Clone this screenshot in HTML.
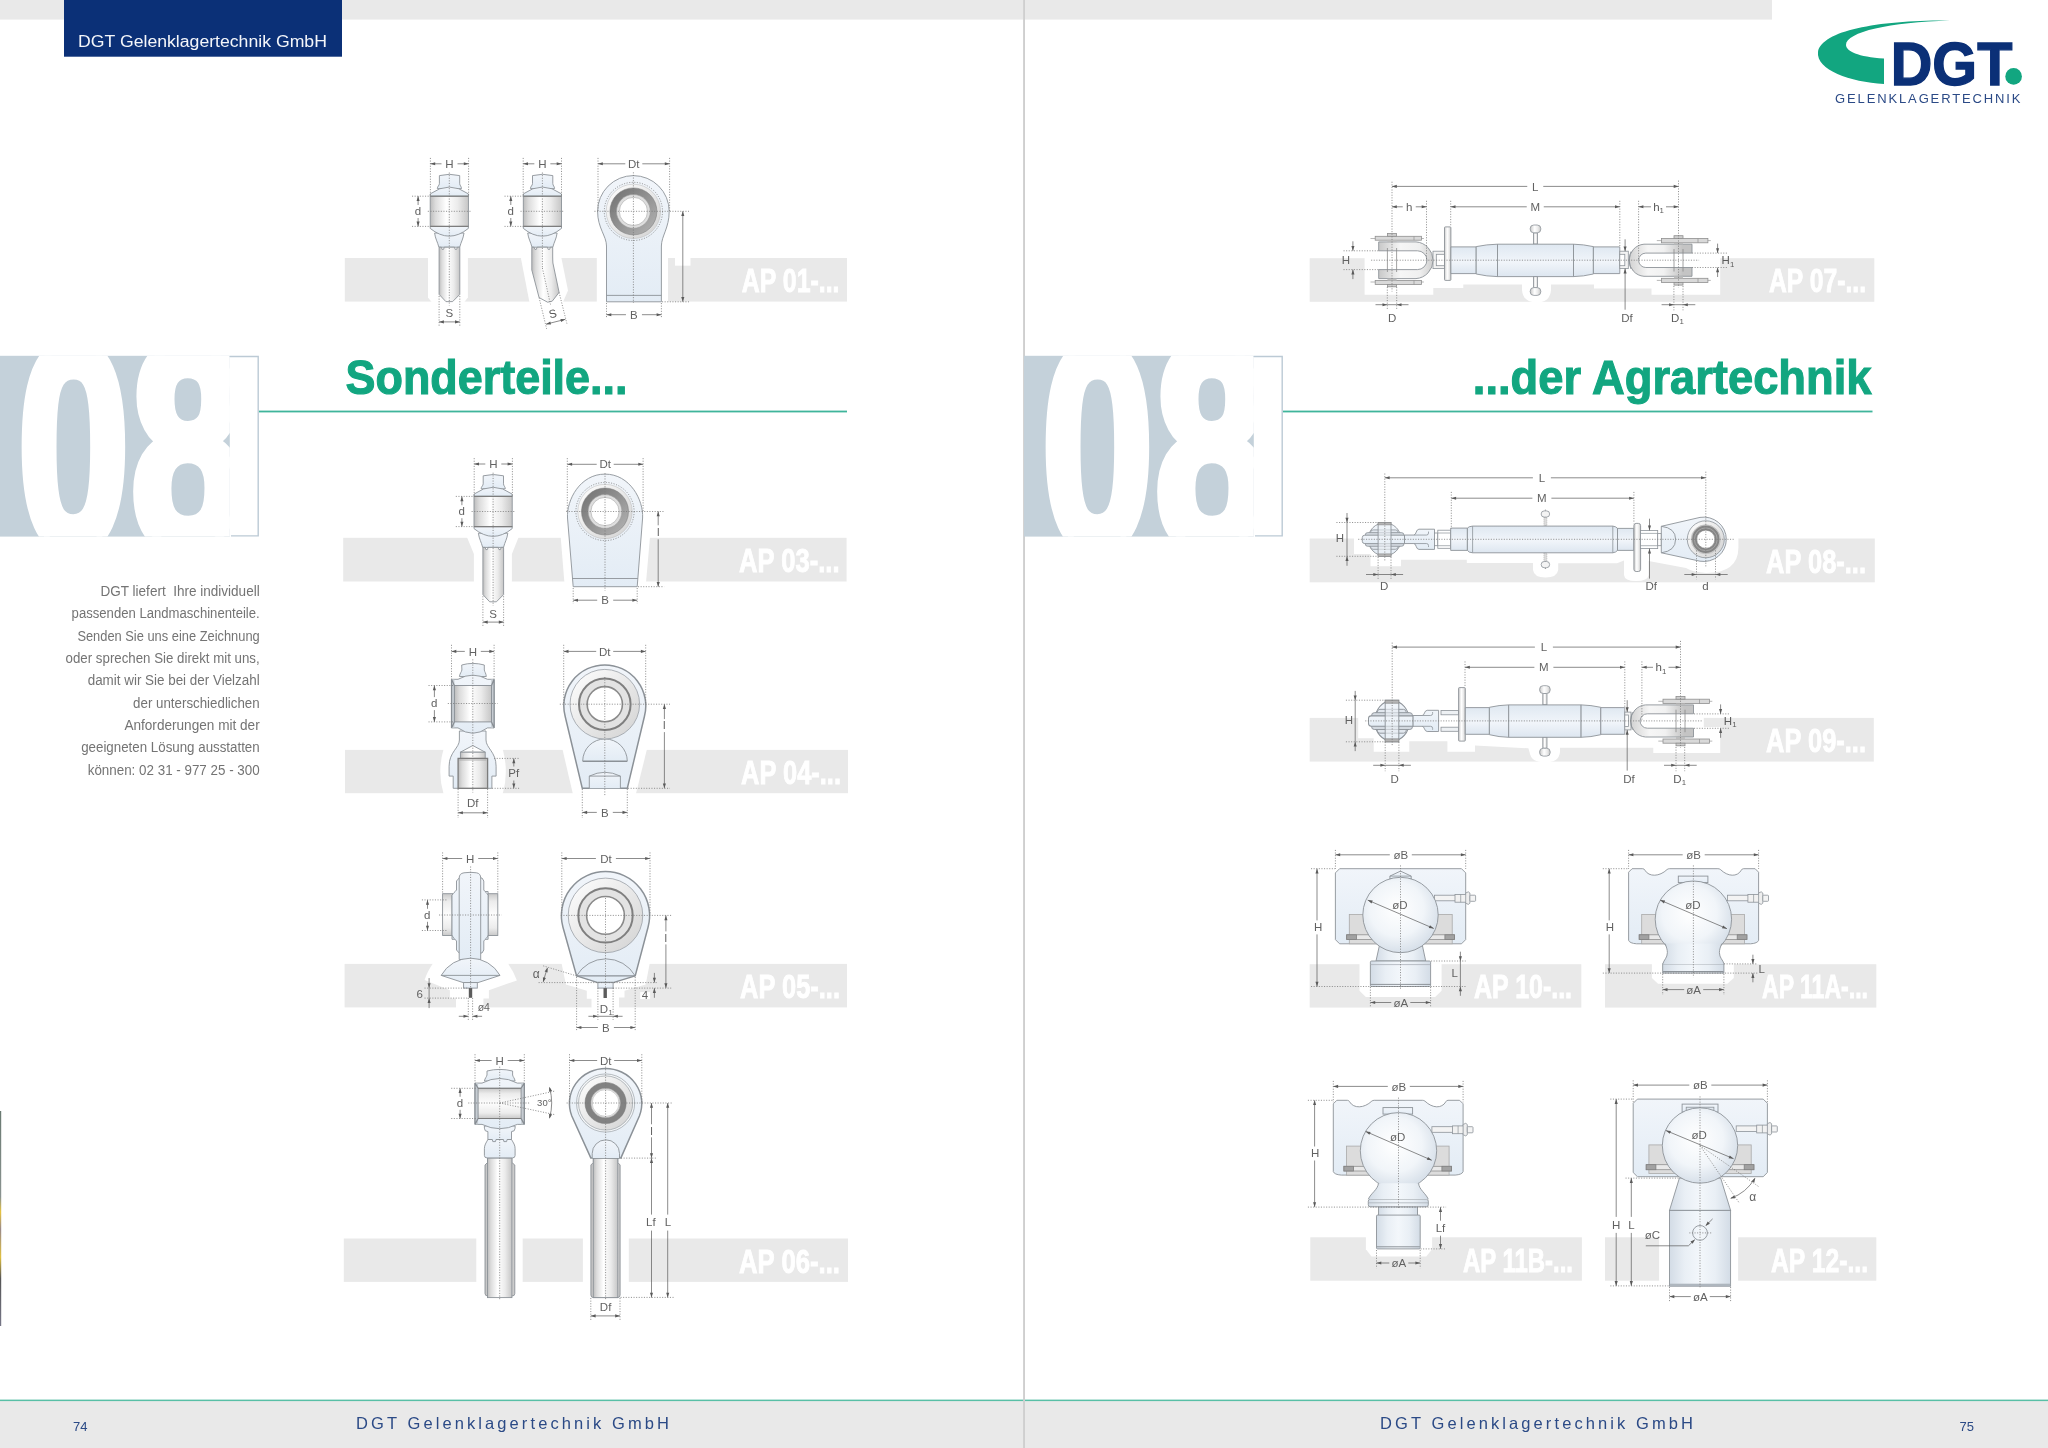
<!DOCTYPE html>
<html lang="de"><head><meta charset="utf-8"><title>DGT Gelenklagertechnik GmbH – Sonderteile der Agrartechnik</title>
<style>
html,body{margin:0;padding:0;background:#fff;}
body{width:2048px;height:1448px;overflow:hidden;font-family:"Liberation Sans",sans-serif;}
svg{display:block;font-family:"Liberation Sans",sans-serif;will-change:transform;}
</style></head><body>
<svg width="2048" height="1448" viewBox="0 0 2048 1448">
<rect x="0" y="0" width="1023" height="19.6" fill="#e9e9e9"/><rect x="1025" y="0" width="747" height="19.6" fill="#e9e9e9"/><rect x="0" y="1400.5" width="2048" height="48" fill="#e9e9e9"/><rect x="0" y="1399.6" width="2048" height="1.5" fill="#58bfa6"/><rect x="1023.1" y="0" width="1.9" height="1448" fill="#cfcfcf"/><rect x="64" y="0" width="278" height="56.7" fill="#0b3077"/><text x="78.1" y="46.6" font-size="17.3" fill="#f4f6fa" textLength="248.8" lengthAdjust="spacingAndGlyphs">DGT Gelenklagertechnik GmbH</text><rect x="344.8" y="258" width="502.2" height="43.6" fill="#e9e9e9"/><rect x="343.2" y="537.8" width="503.4" height="43.7" fill="#e9e9e9"/><rect x="345" y="749.9" width="503" height="43.3" fill="#e9e9e9"/><rect x="344.6" y="963.9" width="502.4" height="43.5" fill="#e9e9e9"/><rect x="343.8" y="1238.5" width="504.2" height="43.4" fill="#e9e9e9"/><rect x="1309.7" y="258.2" width="564.6" height="43.6" fill="#e9e9e9"/><rect x="1309.7" y="538.5" width="565.1" height="43.8" fill="#e9e9e9"/><rect x="1309.7" y="717.9" width="564.1" height="43.7" fill="#e9e9e9"/><rect x="1309.7" y="964.2" width="271.6" height="43.4" fill="#e9e9e9"/><rect x="1605" y="964.2" width="271.3" height="43.4" fill="#e9e9e9"/><rect x="1310.3" y="1237.3" width="271.6" height="43.4" fill="#e9e9e9"/><rect x="1605" y="1237.3" width="271.3" height="43.4" fill="#e9e9e9"/><g transform="translate(0 0)"><rect x="0" y="355.8" width="229.8" height="180.8" fill="#c4d1da"/><path d="M229.8 356.5H258.2V535.9H231" fill="none" stroke="#bccad5" stroke-width="1.4"/><clipPath id="c08_0"><rect x="0" y="355.8" width="229.8" height="180.8"/></clipPath><g clip-path="url(#c08_0)" font-weight="bold" fill="#fff" stroke="#fff" stroke-width="8.8" stroke-linejoin="round"><g transform="translate(0 548.2) scale(0.69 1)"><text y="0" font-size="294" text-anchor="middle" vector-effect="non-scaling-stroke"><tspan x="106.6" vector-effect="non-scaling-stroke">0</tspan><tspan x="272.4" stroke-width="12" vector-effect="non-scaling-stroke">8</tspan></text></g></g></g><g transform="translate(1024 0)"><rect x="0" y="355.8" width="229.8" height="180.8" fill="#c4d1da"/><path d="M229.8 356.5H258.2V535.9H231" fill="none" stroke="#bccad5" stroke-width="1.4"/><clipPath id="c08_1024"><rect x="0" y="355.8" width="229.8" height="180.8"/></clipPath><g clip-path="url(#c08_1024)" font-weight="bold" fill="#fff" stroke="#fff" stroke-width="8.8" stroke-linejoin="round"><g transform="translate(0 548.2) scale(0.69 1)"><text y="0" font-size="294" text-anchor="middle" vector-effect="non-scaling-stroke"><tspan x="106.6" vector-effect="non-scaling-stroke">0</tspan><tspan x="272.4" stroke-width="12" vector-effect="non-scaling-stroke">8</tspan></text></g></g></g><text x="345.5" y="394" font-size="48.5" font-weight="bold" fill="#12a680" stroke="#12a680" stroke-width="1.1" textLength="282" lengthAdjust="spacingAndGlyphs">Sonderteile...</text><text x="1472.8" y="394" font-size="48.5" font-weight="bold" fill="#12a680" stroke="#12a680" stroke-width="1.1" textLength="398.7" lengthAdjust="spacingAndGlyphs">...der Agrartechnik</text><rect x="259" y="410.6" width="588" height="1.8" fill="#3fb59b"/><rect x="1283" y="410.6" width="589.5" height="1.8" fill="#3fb59b"/><text x="741.8" y="292.3" font-size="33.5" font-weight="bold" fill="#fff" stroke="#fff" stroke-width="0.9" textLength="97.7" lengthAdjust="spacingAndGlyphs">AP 01-...</text><text x="739" y="572.2" font-size="33.5" font-weight="bold" fill="#fff" stroke="#fff" stroke-width="0.9" textLength="100.5" lengthAdjust="spacingAndGlyphs">AP 03-...</text><text x="741" y="784" font-size="33.5" font-weight="bold" fill="#fff" stroke="#fff" stroke-width="0.9" textLength="100" lengthAdjust="spacingAndGlyphs">AP 04-...</text><text x="740" y="998" font-size="33.5" font-weight="bold" fill="#fff" stroke="#fff" stroke-width="0.9" textLength="100" lengthAdjust="spacingAndGlyphs">AP 05-...</text><text x="739" y="1272.5" font-size="33.5" font-weight="bold" fill="#fff" stroke="#fff" stroke-width="0.9" textLength="101" lengthAdjust="spacingAndGlyphs">AP 06-...</text><text x="1769" y="292.3" font-size="33.5" font-weight="bold" fill="#fff" stroke="#fff" stroke-width="0.9" textLength="97" lengthAdjust="spacingAndGlyphs">AP 07-...</text><text x="1766" y="572.8" font-size="33.5" font-weight="bold" fill="#fff" stroke="#fff" stroke-width="0.9" textLength="100" lengthAdjust="spacingAndGlyphs">AP 08-...</text><text x="1766" y="752" font-size="33.5" font-weight="bold" fill="#fff" stroke="#fff" stroke-width="0.9" textLength="100" lengthAdjust="spacingAndGlyphs">AP 09-...</text><text x="1474" y="998" font-size="33.5" font-weight="bold" fill="#fff" stroke="#fff" stroke-width="0.9" textLength="98" lengthAdjust="spacingAndGlyphs">AP 10-...</text><text x="1762" y="998" font-size="33.5" font-weight="bold" fill="#fff" stroke="#fff" stroke-width="0.9" textLength="106" lengthAdjust="spacingAndGlyphs">AP 11A-...</text><text x="1463" y="1271.5" font-size="33.5" font-weight="bold" fill="#fff" stroke="#fff" stroke-width="0.9" textLength="110" lengthAdjust="spacingAndGlyphs">AP 11B-...</text><text x="1771" y="1271.5" font-size="33.5" font-weight="bold" fill="#fff" stroke="#fff" stroke-width="0.9" textLength="97" lengthAdjust="spacingAndGlyphs">AP 12-...</text><defs>
<linearGradient id="gBody" x1="0" y1="0" x2="0" y2="1"><stop offset="0" stop-color="#f1f5fa"/><stop offset="1" stop-color="#e3ecf5"/></linearGradient>
<linearGradient id="gBodyH" x1="0" y1="0" x2="1" y2="0"><stop offset="0" stop-color="#dfe8f1"/><stop offset="0.5" stop-color="#f3f7fb"/><stop offset="1" stop-color="#dfe8f1"/></linearGradient>
<linearGradient id="gCyl" x1="0" y1="0" x2="1" y2="0"><stop offset="0" stop-color="#bdbdbd"/><stop offset="0.14" stop-color="#dcdcdc"/><stop offset="0.42" stop-color="#ffffff"/><stop offset="0.72" stop-color="#ebebeb"/><stop offset="1" stop-color="#c6c6c6"/></linearGradient>
<linearGradient id="gCylV" x1="0" y1="0" x2="0" y2="1"><stop offset="0" stop-color="#c9c9c9"/><stop offset="0.18" stop-color="#ececec"/><stop offset="0.5" stop-color="#fdfdfd"/><stop offset="0.82" stop-color="#ececec"/><stop offset="1" stop-color="#c9c9c9"/></linearGradient>
<linearGradient id="gBlueV" x1="0" y1="0" x2="0" y2="1"><stop offset="0" stop-color="#d9e4ef"/><stop offset="0.5" stop-color="#eef3f9"/><stop offset="1" stop-color="#d9e4ef"/></linearGradient>
<linearGradient id="gRing" x1="0" y1="0" x2="1" y2="1"><stop offset="0" stop-color="#6f6f6f"/><stop offset="1" stop-color="#b5b5b5"/></linearGradient>
<linearGradient id="gRingL" x1="0" y1="0" x2="1" y2="1"><stop offset="0" stop-color="#ffffff"/><stop offset="1" stop-color="#d2d2d2"/></linearGradient>
<radialGradient id="gBall" cx="0.45" cy="0.42" r="0.6"><stop offset="0" stop-color="#ffffff"/><stop offset="0.6" stop-color="#f1f5f9"/><stop offset="1" stop-color="#d5dee8"/></radialGradient>
</defs><path d="M428 257H467.9V297.5L464 302.5H432L428 297.5Z" fill="#fff"/><path d="M520.7 257H561.2L568 290.4L562.8 302.5H529.5Z" fill="#fff"/><path d="M596.8 257H668V302.5H596.8Z" fill="#fff"/><path d="M675 257H690.5V265.7H675Z" fill="#fff"/><path d="M434.6 233C435.4 239,437.3 241.2,438.9 247.2L459.7 247.2C461.3 241.2,463.2 239,464 233Z" fill="url(#gBody)" stroke="#8d9399" stroke-width="0.9" stroke-linejoin="round" /><path d="M439.1 247.2L439.1 294.4L445.9 301.6L452.6 301.6L459.8 294.4L459.8 247.2L457.4 247.2L456.6 249.4L455.2 249.4L454.4 247.2L444.3 247.2L443.5 249.4L442.1 249.4L441.3 247.2Z" fill="url(#gCyl)" stroke="#8d9399" stroke-width="0.9" stroke-linejoin="round" /><path d="M437.3 188.6C437.4 186.2,439.3 185.8,439.4 183.6L439.4 175.6Q449.3 173,459.7 175.6L459.7 183.6C459.8 185.8,461.4 186.2,461.5 188.6Z" fill="url(#gBody)" stroke="#8d9399" stroke-width="0.9" stroke-linejoin="round" /><path d="M430.2 196.2L430.2 193.9Q449.3 180.2,468.4 193.9L468.4 196.2Z" fill="url(#gBody)" stroke="#8d9399" stroke-width="0.9" stroke-linejoin="round" /><path d="M430.2 226.4L430.2 228.4Q449.3 243.9,468.4 228.4L468.4 226.4Z" fill="url(#gBody)" stroke="#8d9399" stroke-width="0.9" stroke-linejoin="round" /><rect x="430.2" y="196.2" width="38.2" height="30.2" fill="url(#gCyl)" stroke="#8d9399" stroke-width="0.9"/><line x1="430.2" y1="196.2" x2="468.4" y2="196.2" stroke="#7d7d7d" stroke-width="1.1" /><line x1="430.2" y1="226.4" x2="468.4" y2="226.4" stroke="#7d7d7d" stroke-width="1.1" /><line x1="449.3" y1="172.5" x2="449.3" y2="305.5" stroke="#7a7a7a" stroke-width="0.8" stroke-dasharray="1.1 1.5"/><line x1="427.8" y1="211.3" x2="470.9" y2="211.3" stroke="#7a7a7a" stroke-width="0.8" stroke-dasharray="1.1 1.5"/><line x1="430.4" y1="157.9" x2="430.4" y2="196" stroke="#7a7a7a" stroke-width="0.8" stroke-dasharray="1.1 1.5"/><line x1="468.6" y1="157.9" x2="468.6" y2="196" stroke="#7a7a7a" stroke-width="0.8" stroke-dasharray="1.1 1.5"/><line x1="430.4" y1="163.8" x2="441.5" y2="163.8" stroke="#5a5a5a" stroke-width="0.7" /><line x1="457.5" y1="163.8" x2="468.6" y2="163.8" stroke="#5a5a5a" stroke-width="0.7" /><text x="449.5" y="167.9" font-size="11.5" text-anchor="middle" fill="#626262" font-weight="normal" >H</text><path d="M430.4 163.8L435.2 162.25L435.2 165.35Z" fill="#5a5a5a"/><path d="M468.6 163.8L463.8 165.35L463.8 162.25Z" fill="#5a5a5a"/><line x1="412" y1="196.2" x2="430" y2="196.2" stroke="#7a7a7a" stroke-width="0.8" stroke-dasharray="1.1 1.5"/><line x1="412" y1="226.4" x2="430" y2="226.4" stroke="#7a7a7a" stroke-width="0.8" stroke-dasharray="1.1 1.5"/><line x1="418.1" y1="196.2" x2="418.1" y2="205" stroke="#5a5a5a" stroke-width="0.7" /><line x1="418.1" y1="218" x2="418.1" y2="226.4" stroke="#5a5a5a" stroke-width="0.7" /><text x="417.9" y="215.2" font-size="11.5" text-anchor="middle" fill="#626262" font-weight="normal" >d</text><path d="M418.1 196.2L419.65 201L416.55 201Z" fill="#5a5a5a"/><path d="M418.1 226.4L416.55 221.6L419.65 221.6Z" fill="#5a5a5a"/><line x1="439.1" y1="296" x2="439.1" y2="326.5" stroke="#7a7a7a" stroke-width="0.8" stroke-dasharray="1.1 1.5"/><line x1="459.8" y1="296" x2="459.8" y2="326.5" stroke="#7a7a7a" stroke-width="0.8" stroke-dasharray="1.1 1.5"/><line x1="439.1" y1="321.9" x2="459.8" y2="321.9" stroke="#5a5a5a" stroke-width="0.7" /><path d="M439.1 321.9L443.9 320.35L443.9 323.45Z" fill="#5a5a5a"/><path d="M459.8 321.9L455 323.45L455 320.35Z" fill="#5a5a5a"/><text x="449.3" y="317.4" font-size="11.5" text-anchor="middle" fill="#626262" font-weight="normal" >S</text><path d="M527.7 233C528.5 239,530.4 241.2,532 247.2L552.8 247.2C554.4 241.2,556.3 239,557.1 233Z" fill="url(#gBody)" stroke="#8d9399" stroke-width="0.9" stroke-linejoin="round" /><path d="M531.8 247.2L531.8 270L539.1 297.6L547.6 302.2L552.2 301.2L559.1 292.4L552.9 263Q552.7 260,552.7 257L552.7 247.2L550.4 247.2L549.6 249.4L548.2 249.4L547.4 247.2L537.1 247.2L536.3 249.4L534.9 249.4L534.1 247.2Z" fill="url(#gCyl)" stroke="#8d9399" stroke-width="0.9" stroke-linejoin="round" /><path d="M530.4 188.6C530.5 186.2,532.4 185.8,532.5 183.6L532.5 175.6Q542.4 173,552.8 175.6L552.8 183.6C552.9 185.8,554.5 186.2,554.6 188.6Z" fill="url(#gBody)" stroke="#8d9399" stroke-width="0.9" stroke-linejoin="round" /><path d="M523.3 196.2L523.3 193.9Q542.4 180.2,561.5 193.9L561.5 196.2Z" fill="url(#gBody)" stroke="#8d9399" stroke-width="0.9" stroke-linejoin="round" /><path d="M523.3 226.4L523.3 228.4Q542.4 243.9,561.5 228.4L561.5 226.4Z" fill="url(#gBody)" stroke="#8d9399" stroke-width="0.9" stroke-linejoin="round" /><rect x="523.3" y="196.2" width="38.2" height="30.2" fill="url(#gCyl)" stroke="#8d9399" stroke-width="0.9"/><line x1="523.3" y1="196.2" x2="561.5" y2="196.2" stroke="#7d7d7d" stroke-width="1.1" /><line x1="523.3" y1="226.4" x2="561.5" y2="226.4" stroke="#7d7d7d" stroke-width="1.1" /><line x1="542.4" y1="172.5" x2="542.4" y2="268" stroke="#7a7a7a" stroke-width="0.8" stroke-dasharray="1.1 1.5"/><line x1="542.4" y1="268" x2="550.5" y2="304.5" stroke="#7a7a7a" stroke-width="0.8" stroke-dasharray="1.1 1.5"/><line x1="520.5" y1="211.3" x2="564" y2="211.3" stroke="#7a7a7a" stroke-width="0.8" stroke-dasharray="1.1 1.5"/><line x1="523.2" y1="157.9" x2="523.2" y2="196" stroke="#7a7a7a" stroke-width="0.8" stroke-dasharray="1.1 1.5"/><line x1="561.5" y1="157.9" x2="561.5" y2="196" stroke="#7a7a7a" stroke-width="0.8" stroke-dasharray="1.1 1.5"/><line x1="523.2" y1="163.8" x2="534.35" y2="163.8" stroke="#5a5a5a" stroke-width="0.7" /><line x1="550.35" y1="163.8" x2="561.5" y2="163.8" stroke="#5a5a5a" stroke-width="0.7" /><text x="542.35" y="167.9" font-size="11.5" text-anchor="middle" fill="#626262" font-weight="normal" >H</text><path d="M523.2 163.8L528 162.25L528 165.35Z" fill="#5a5a5a"/><path d="M561.5 163.8L556.7 165.35L556.7 162.25Z" fill="#5a5a5a"/><line x1="504.5" y1="196.2" x2="523" y2="196.2" stroke="#7a7a7a" stroke-width="0.8" stroke-dasharray="1.1 1.5"/><line x1="504.5" y1="226.4" x2="523" y2="226.4" stroke="#7a7a7a" stroke-width="0.8" stroke-dasharray="1.1 1.5"/><line x1="510.8" y1="196.2" x2="510.8" y2="205" stroke="#5a5a5a" stroke-width="0.7" /><line x1="510.8" y1="218" x2="510.8" y2="226.4" stroke="#5a5a5a" stroke-width="0.7" /><text x="510.6" y="215.2" font-size="11.5" text-anchor="middle" fill="#626262" font-weight="normal" >d</text><path d="M510.8 196.2L512.35 201L509.25 201Z" fill="#5a5a5a"/><path d="M510.8 226.4L509.25 221.6L512.35 221.6Z" fill="#5a5a5a"/><line x1="539.1" y1="297.6" x2="546.6" y2="328.8" stroke="#7a7a7a" stroke-width="0.8" stroke-dasharray="1.1 1.5"/><line x1="559.1" y1="292.4" x2="566.9" y2="323.6" stroke="#7a7a7a" stroke-width="0.8" stroke-dasharray="1.1 1.5"/><line x1="546" y1="324.2" x2="565.4" y2="319.3" stroke="#5a5a5a" stroke-width="0.7" /><path d="M546 324.2L550.28 321.53L551.03 324.54Z" fill="#5a5a5a"/><path d="M565.4 319.3L561.12 321.97L560.37 318.96Z" fill="#5a5a5a"/><text transform="translate(553.6 317.6) rotate(-14)" font-size="11.5" text-anchor="middle" fill="#5a5a5a">S</text><path d="M606.5 301.8L606.5 246C606.5 236,597.6 228,597.6 211.4A35.8 35.8 0 0 1 669.2 211.4C669.2 228,661.4 236,661.4 246L661.4 301.8Z" fill="url(#gBody)" stroke="#8d9399" stroke-width="0.9" stroke-linejoin="round" /><line x1="606.5" y1="295.4" x2="661.4" y2="295.4" stroke="#8d9399" stroke-width="0.9" /><circle cx="633.4" cy="211.4" r="27.2" fill="url(#gRingL)" stroke="#b9b9b9" stroke-width="0.5"/><circle cx="633.4" cy="211.4" r="23.5" fill="url(#gRing)" stroke="#777" stroke-width="0.5"/><circle cx="633.4" cy="211.4" r="16.9" fill="#dedede" stroke="#9a9a9a" stroke-width="0.6"/><circle cx="633.4" cy="211.4" r="14.1" fill="#fff" stroke="#a5a5a5" stroke-width="0.6"/><circle cx="633.4" cy="211.4" r="29.1" fill="none" stroke="#7a7a7a" stroke-width="0.8" stroke-dasharray="1.1 1.5"/><line x1="594.4" y1="211.3" x2="689" y2="211.3" stroke="#7a7a7a" stroke-width="0.8" stroke-dasharray="1.1 1.5"/><line x1="633.4" y1="172.3" x2="633.4" y2="303" stroke="#7a7a7a" stroke-width="0.8" stroke-dasharray="1.1 1.5"/><line x1="598" y1="157.9" x2="598" y2="211" stroke="#7a7a7a" stroke-width="0.8" stroke-dasharray="1.1 1.5"/><line x1="669.6" y1="157.9" x2="669.6" y2="211" stroke="#7a7a7a" stroke-width="0.8" stroke-dasharray="1.1 1.5"/><line x1="598" y1="163.8" x2="625.3" y2="163.8" stroke="#5a5a5a" stroke-width="0.7" /><line x1="642.3" y1="163.8" x2="669.6" y2="163.8" stroke="#5a5a5a" stroke-width="0.7" /><text x="633.8" y="167.9" font-size="11.5" text-anchor="middle" fill="#626262" font-weight="normal" >Dt</text><path d="M598 163.8L602.8 162.25L602.8 165.35Z" fill="#5a5a5a"/><path d="M669.6 163.8L664.8 165.35L664.8 162.25Z" fill="#5a5a5a"/><line x1="682.8" y1="211.3" x2="682.8" y2="301.8" stroke="#5a5a5a" stroke-width="0.7" /><path d="M682.8 211.3L684.35 216.1L681.25 216.1Z" fill="#5a5a5a"/><path d="M682.8 301.8L681.25 297L684.35 297Z" fill="#5a5a5a"/><line x1="662" y1="301.8" x2="689" y2="301.8" stroke="#7a7a7a" stroke-width="0.8" stroke-dasharray="1.1 1.5"/><line x1="606.5" y1="303" x2="606.5" y2="318.6" stroke="#7a7a7a" stroke-width="0.8" stroke-dasharray="1.1 1.5"/><line x1="661.4" y1="303" x2="661.4" y2="318.6" stroke="#7a7a7a" stroke-width="0.8" stroke-dasharray="1.1 1.5"/><line x1="606.5" y1="314.7" x2="625.95" y2="314.7" stroke="#5a5a5a" stroke-width="0.7" /><line x1="641.95" y1="314.7" x2="661.4" y2="314.7" stroke="#5a5a5a" stroke-width="0.7" /><text x="633.95" y="318.8" font-size="11.5" text-anchor="middle" fill="#626262" font-weight="normal" >B</text><path d="M606.5 314.7L611.3 313.15L611.3 316.25Z" fill="#5a5a5a"/><path d="M661.4 314.7L656.6 316.25L656.6 313.15Z" fill="#5a5a5a"/><path d="M466.9 537H518.7L511.9 553.9V582.5H473.9V553.9Z" fill="#fff"/><path d="M560.7 537H650L646 582.5H564.4Z" fill="#fff"/><path d="M478.4 533.2C479.2 539.2,481.1 541.4,482.7 547.4L503.5 547.4C505.1 541.4,507 539.2,507.8 533.2Z" fill="url(#gBody)" stroke="#8d9399" stroke-width="0.9" stroke-linejoin="round" /><path d="M482.9 547.4L482.9 594.6L489.7 601.8L496.4 601.8L503.6 594.6L503.6 547.4L501.2 547.4L500.4 549.6L499 549.6L498.2 547.4L488.1 547.4L487.3 549.6L485.9 549.6L485.1 547.4Z" fill="url(#gCyl)" stroke="#8d9399" stroke-width="0.9" stroke-linejoin="round" /><path d="M481.1 488.8C481.2 486.4,483.1 486,483.2 483.8L483.2 475.8Q493.1 473.2,503.5 475.8L503.5 483.8C503.6 486,505.2 486.4,505.3 488.8Z" fill="url(#gBody)" stroke="#8d9399" stroke-width="0.9" stroke-linejoin="round" /><path d="M474 496.4L474 494.1Q493.1 480.4,512.2 494.1L512.2 496.4Z" fill="url(#gBody)" stroke="#8d9399" stroke-width="0.9" stroke-linejoin="round" /><path d="M474 526.6L474 528.6Q493.1 544.1,512.2 528.6L512.2 526.6Z" fill="url(#gBody)" stroke="#8d9399" stroke-width="0.9" stroke-linejoin="round" /><rect x="474" y="496.4" width="38.2" height="30.2" fill="url(#gCyl)" stroke="#8d9399" stroke-width="0.9"/><line x1="474" y1="496.4" x2="512.2" y2="496.4" stroke="#7d7d7d" stroke-width="1.1" /><line x1="474" y1="526.6" x2="512.2" y2="526.6" stroke="#7d7d7d" stroke-width="1.1" /><line x1="493.1" y1="472.7" x2="493.1" y2="605.7" stroke="#7a7a7a" stroke-width="0.8" stroke-dasharray="1.1 1.5"/><line x1="471.6" y1="511.5" x2="514.7" y2="511.5" stroke="#7a7a7a" stroke-width="0.8" stroke-dasharray="1.1 1.5"/><line x1="474.2" y1="458.1" x2="474.2" y2="496.2" stroke="#7a7a7a" stroke-width="0.8" stroke-dasharray="1.1 1.5"/><line x1="512.4" y1="458.1" x2="512.4" y2="496.2" stroke="#7a7a7a" stroke-width="0.8" stroke-dasharray="1.1 1.5"/><line x1="474.2" y1="464" x2="485.3" y2="464" stroke="#5a5a5a" stroke-width="0.7" /><line x1="501.3" y1="464" x2="512.4" y2="464" stroke="#5a5a5a" stroke-width="0.7" /><text x="493.3" y="468.1" font-size="11.5" text-anchor="middle" fill="#626262" font-weight="normal" >H</text><path d="M474.2 464L479 462.45L479 465.55Z" fill="#5a5a5a"/><path d="M512.4 464L507.6 465.55L507.6 462.45Z" fill="#5a5a5a"/><line x1="455.8" y1="496.4" x2="473.8" y2="496.4" stroke="#7a7a7a" stroke-width="0.8" stroke-dasharray="1.1 1.5"/><line x1="455.8" y1="526.6" x2="473.8" y2="526.6" stroke="#7a7a7a" stroke-width="0.8" stroke-dasharray="1.1 1.5"/><line x1="461.9" y1="496.4" x2="461.9" y2="505.2" stroke="#5a5a5a" stroke-width="0.7" /><line x1="461.9" y1="518.2" x2="461.9" y2="526.6" stroke="#5a5a5a" stroke-width="0.7" /><text x="461.7" y="515.4" font-size="11.5" text-anchor="middle" fill="#626262" font-weight="normal" >d</text><path d="M461.9 496.4L463.45 501.2L460.35 501.2Z" fill="#5a5a5a"/><path d="M461.9 526.6L460.35 521.8L463.45 521.8Z" fill="#5a5a5a"/><line x1="482.9" y1="596.2" x2="482.9" y2="626.7" stroke="#7a7a7a" stroke-width="0.8" stroke-dasharray="1.1 1.5"/><line x1="503.6" y1="596.2" x2="503.6" y2="626.7" stroke="#7a7a7a" stroke-width="0.8" stroke-dasharray="1.1 1.5"/><line x1="482.9" y1="622.1" x2="503.6" y2="622.1" stroke="#5a5a5a" stroke-width="0.7" /><path d="M482.9 622.1L487.7 620.55L487.7 623.65Z" fill="#5a5a5a"/><path d="M503.6 622.1L498.8 623.65L498.8 620.55Z" fill="#5a5a5a"/><text x="493.1" y="617.6" font-size="11.5" text-anchor="middle" fill="#626262" font-weight="normal" >S</text><path d="M573.2 586.7L567.5 518C566.5 500,580 474.1,605 474.1C630 474.1,643.6 500,642.6 518L637.2 586.7Z" fill="url(#gBody)" stroke="#8d9399" stroke-width="0.9" stroke-linejoin="round" /><line x1="572.5" y1="578.5" x2="637.9" y2="578.5" stroke="#8d9399" stroke-width="0.9" /><circle cx="605" cy="511.5" r="27.2" fill="url(#gRingL)" stroke="#b9b9b9" stroke-width="0.5"/><circle cx="605" cy="511.5" r="23.5" fill="url(#gRing)" stroke="#777" stroke-width="0.5"/><circle cx="605" cy="511.5" r="16.9" fill="#dedede" stroke="#9a9a9a" stroke-width="0.6"/><circle cx="605" cy="511.5" r="14.1" fill="#fff" stroke="#a5a5a5" stroke-width="0.6"/><circle cx="605" cy="511.5" r="29.1" fill="none" stroke="#7a7a7a" stroke-width="0.8" stroke-dasharray="1.1 1.5"/><line x1="566.2" y1="511.5" x2="664.1" y2="511.5" stroke="#7a7a7a" stroke-width="0.8" stroke-dasharray="1.1 1.5"/><line x1="605" y1="473.2" x2="605" y2="590.7" stroke="#7a7a7a" stroke-width="0.8" stroke-dasharray="1.1 1.5"/><line x1="567.3" y1="458.1" x2="567.3" y2="511" stroke="#7a7a7a" stroke-width="0.8" stroke-dasharray="1.1 1.5"/><line x1="643.1" y1="458.1" x2="643.1" y2="511" stroke="#7a7a7a" stroke-width="0.8" stroke-dasharray="1.1 1.5"/><line x1="567.3" y1="464.3" x2="596.7" y2="464.3" stroke="#5a5a5a" stroke-width="0.7" /><line x1="613.7" y1="464.3" x2="643.1" y2="464.3" stroke="#5a5a5a" stroke-width="0.7" /><text x="605.2" y="468.4" font-size="11.5" text-anchor="middle" fill="#626262" font-weight="normal" >Dt</text><path d="M567.3 464.3L572.1 462.75L572.1 465.85Z" fill="#5a5a5a"/><path d="M643.1 464.3L638.3 465.85L638.3 462.75Z" fill="#5a5a5a"/><line x1="658.2" y1="511.5" x2="658.2" y2="525.3" stroke="#5a5a5a" stroke-width="0.7" /><line x1="658.2" y1="539.3" x2="658.2" y2="586.7" stroke="#5a5a5a" stroke-width="0.7" /><text x="658.2" y="536" font-size="11.5" text-anchor="middle" fill="#626262" font-weight="normal" >l</text><path d="M658.2 511.5L659.75 516.3L656.65 516.3Z" fill="#5a5a5a"/><path d="M658.2 586.7L656.65 581.9L659.75 581.9Z" fill="#5a5a5a"/><line x1="638" y1="586.7" x2="664.1" y2="586.7" stroke="#7a7a7a" stroke-width="0.8" stroke-dasharray="1.1 1.5"/><line x1="573.2" y1="588" x2="573.2" y2="603.8" stroke="#7a7a7a" stroke-width="0.8" stroke-dasharray="1.1 1.5"/><line x1="637.2" y1="588" x2="637.2" y2="603.8" stroke="#7a7a7a" stroke-width="0.8" stroke-dasharray="1.1 1.5"/><line x1="573.2" y1="600.2" x2="597.2" y2="600.2" stroke="#5a5a5a" stroke-width="0.7" /><line x1="613.2" y1="600.2" x2="637.2" y2="600.2" stroke="#5a5a5a" stroke-width="0.7" /><text x="605.2" y="604.3" font-size="11.5" text-anchor="middle" fill="#626262" font-weight="normal" >B</text><path d="M573.2 600.2L578 598.65L578 601.75Z" fill="#5a5a5a"/><path d="M637.2 600.2L632.4 601.75L632.4 598.65Z" fill="#5a5a5a"/><path d="M443.6 749H502.7Q509 772,502.7 794H443.6Q437 772,443.6 749Z" fill="#fff"/><path d="M562.4 749H647L635.9 794H572.9Z" fill="#fff"/><path d="M459.4 676.5C460 673,461.5 672,461.9 670L461.7 665Q472.8 661.8,484.3 665L484.3 670C484.6 672,486 673,486.3 676.5Z" fill="url(#gBody)" stroke="#8d9399" stroke-width="0.9" stroke-linejoin="round" /><path d="M459.4 731L459.4 740C459.4 748,449.1 752,449.1 766.2L449.1 776.1L453.2 776.1L453.2 788.3L491.9 788.3L491.9 776.1L496.1 776.1L496.1 766.2C496.1 752,486 748,486 740L486 731Z" fill="url(#gBody)" stroke="#8d9399" stroke-width="0.9" stroke-linejoin="round" /><path d="M451.5 679.3L458 679.3Q472.8 671,487.5 679.3L494.1 679.3L494.1 727.9L487.5 727.9Q472.8 738.6,458 727.9L451.5 727.9Z" fill="url(#gBody)" stroke="#8d9399" stroke-width="0.9" stroke-linejoin="round" /><rect x="451.5" y="679.3" width="2.9" height="48.6" fill="#c6ccd2"/><rect x="491.2" y="679.3" width="2.9" height="48.6" fill="#c6ccd2"/><rect x="454.4" y="685.5" width="37.1" height="36.4" fill="url(#gCyl)" stroke="#878d93" stroke-width="0.9"/><path d="M451.5 679.3L454.4 685.5M494.1 679.3L491.5 685.5M451.5 727.9L454.4 721.9M494.1 727.9L491.5 721.9M451.5 679.3V727.9M494.1 679.3V727.9" fill="none" stroke="#878d93" stroke-width="1.2" stroke-linejoin="round" /><path d="M460.4 752.2L472.8 745.5L485.2 752.2Z" fill="#fff" stroke="#8d9399" stroke-width="0.9" stroke-linejoin="round" /><rect x="460.4" y="752.2" width="24.8" height="6.2" fill="url(#gCyl)" stroke="#8d9399" stroke-width="0.9"/><rect x="458.1" y="758.4" width="29.5" height="29.9" fill="url(#gCyl)" stroke="#7c7c7c" stroke-width="1.3"/><line x1="459.4" y1="760" x2="486.3" y2="760" stroke="#9a9a9a" stroke-width="0.7" /><line x1="472.8" y1="659.3" x2="472.8" y2="792.5" stroke="#7a7a7a" stroke-width="0.8" stroke-dasharray="1.1 1.5"/><line x1="447.8" y1="703.5" x2="497.7" y2="703.5" stroke="#7a7a7a" stroke-width="0.8" stroke-dasharray="1.1 1.5"/><line x1="451.5" y1="644.8" x2="451.5" y2="679" stroke="#7a7a7a" stroke-width="0.8" stroke-dasharray="1.1 1.5"/><line x1="494.1" y1="644.8" x2="494.1" y2="679" stroke="#7a7a7a" stroke-width="0.8" stroke-dasharray="1.1 1.5"/><line x1="451.5" y1="651.4" x2="464.8" y2="651.4" stroke="#5a5a5a" stroke-width="0.7" /><line x1="480.8" y1="651.4" x2="494.1" y2="651.4" stroke="#5a5a5a" stroke-width="0.7" /><text x="472.8" y="655.5" font-size="11.5" text-anchor="middle" fill="#626262" font-weight="normal" >H</text><path d="M451.5 651.4L456.3 649.85L456.3 652.95Z" fill="#5a5a5a"/><path d="M494.1 651.4L489.3 652.95L489.3 649.85Z" fill="#5a5a5a"/><line x1="428.5" y1="685.5" x2="454" y2="685.5" stroke="#7a7a7a" stroke-width="0.8" stroke-dasharray="1.1 1.5"/><line x1="428.5" y1="721.9" x2="454" y2="721.9" stroke="#7a7a7a" stroke-width="0.8" stroke-dasharray="1.1 1.5"/><line x1="434.4" y1="685.5" x2="434.4" y2="697.1" stroke="#5a5a5a" stroke-width="0.7" /><line x1="434.4" y1="710.1" x2="434.4" y2="721.9" stroke="#5a5a5a" stroke-width="0.7" /><text x="434.2" y="707.3" font-size="11.5" text-anchor="middle" fill="#626262" font-weight="normal" >d</text><path d="M434.4 685.5L435.95 690.3L432.85 690.3Z" fill="#5a5a5a"/><path d="M434.4 721.9L432.85 717.1L435.95 717.1Z" fill="#5a5a5a"/><line x1="494.1" y1="758.4" x2="519.7" y2="758.4" stroke="#7a7a7a" stroke-width="0.8" stroke-dasharray="1.1 1.5"/><line x1="492" y1="788.3" x2="519.7" y2="788.3" stroke="#7a7a7a" stroke-width="0.8" stroke-dasharray="1.1 1.5"/><line x1="513.8" y1="758.4" x2="513.8" y2="766.5" stroke="#5a5a5a" stroke-width="0.7" /><line x1="513.8" y1="780.5" x2="513.8" y2="788.3" stroke="#5a5a5a" stroke-width="0.7" /><text x="513.8" y="777.2" font-size="11.5" text-anchor="middle" fill="#626262" font-weight="normal" >Pf</text><path d="M513.8 758.4L515.35 763.2L512.25 763.2Z" fill="#5a5a5a"/><path d="M513.8 788.3L512.25 783.5L515.35 783.5Z" fill="#5a5a5a"/><line x1="458.1" y1="789" x2="458.1" y2="818" stroke="#7a7a7a" stroke-width="0.8" stroke-dasharray="1.1 1.5"/><line x1="487.6" y1="789" x2="487.6" y2="818" stroke="#7a7a7a" stroke-width="0.8" stroke-dasharray="1.1 1.5"/><line x1="458.1" y1="812.8" x2="487.6" y2="812.8" stroke="#5a5a5a" stroke-width="0.7" /><path d="M458.1 812.8L462.9 811.25L462.9 814.35Z" fill="#5a5a5a"/><path d="M487.6 812.8L482.8 814.35L482.8 811.25Z" fill="#5a5a5a"/><text x="472.8" y="807" font-size="11.5" text-anchor="middle" fill="#626262" font-weight="normal" >Df</text><path d="M582.3 788.3L565.2 716.5A41 41 0 1 1 644.4 716.5L627.3 788.3Z" fill="url(#gBody)" stroke="#8b9197" stroke-width="1.5" stroke-linejoin="round" /><path d="M582.7 761.2A22.3 22.3 0 0 1 627.3 761.2" fill="url(#gBody)" stroke="#8d9399" stroke-width="0.9" stroke-linejoin="round" /><line x1="582.7" y1="761.2" x2="627.3" y2="761.2" stroke="#8b9197" stroke-width="1.4" /><path d="M589.3 788.3L589.3 776.1Q604.8 768.5,620.4 776.1L620.4 788.3" fill="url(#gBody)" stroke="#8d9399" stroke-width="0.9" stroke-linejoin="round" /><line x1="589.3" y1="776.1" x2="620.4" y2="776.1" stroke="#8d9399" stroke-width="0.9" /><circle cx="604.8" cy="704.2" r="34.8" fill="url(#gRingL)" stroke="#9aa0a6" stroke-width="0.8"/><circle cx="604.8" cy="704.2" r="25.8" fill="#e3e3e3" stroke="#7f7f7f" stroke-width="2"/><circle cx="604.8" cy="704.2" r="17.6" fill="#fff" stroke="#8a8a8a" stroke-width="1.6"/><line x1="559.8" y1="704.2" x2="670" y2="704.2" stroke="#7a7a7a" stroke-width="0.8" stroke-dasharray="1.1 1.5"/><line x1="604.8" y1="677" x2="604.8" y2="795.8" stroke="#7a7a7a" stroke-width="0.8" stroke-dasharray="1.1 1.5"/><line x1="563.7" y1="644.8" x2="563.7" y2="704" stroke="#7a7a7a" stroke-width="0.8" stroke-dasharray="1.1 1.5"/><line x1="645.7" y1="644.8" x2="645.7" y2="704" stroke="#7a7a7a" stroke-width="0.8" stroke-dasharray="1.1 1.5"/><line x1="563.7" y1="651.4" x2="596.2" y2="651.4" stroke="#5a5a5a" stroke-width="0.7" /><line x1="613.2" y1="651.4" x2="645.7" y2="651.4" stroke="#5a5a5a" stroke-width="0.7" /><text x="604.7" y="655.5" font-size="11.5" text-anchor="middle" fill="#626262" font-weight="normal" >Dt</text><path d="M563.7 651.4L568.5 649.85L568.5 652.95Z" fill="#5a5a5a"/><path d="M645.7 651.4L640.9 652.95L640.9 649.85Z" fill="#5a5a5a"/><line x1="664.4" y1="704.2" x2="664.4" y2="719.1" stroke="#5a5a5a" stroke-width="0.7" /><line x1="664.4" y1="732.1" x2="664.4" y2="788.3" stroke="#5a5a5a" stroke-width="0.7" /><text x="664.4" y="729.3" font-size="11.5" text-anchor="middle" fill="#626262" font-weight="normal" >l</text><path d="M664.4 704.2L665.95 709L662.85 709Z" fill="#5a5a5a"/><path d="M664.4 788.3L662.85 783.5L665.95 783.5Z" fill="#5a5a5a"/><line x1="628" y1="788.3" x2="670" y2="788.3" stroke="#7a7a7a" stroke-width="0.8" stroke-dasharray="1.1 1.5"/><line x1="582.3" y1="789" x2="582.3" y2="818" stroke="#7a7a7a" stroke-width="0.8" stroke-dasharray="1.1 1.5"/><line x1="627.3" y1="789" x2="627.3" y2="818" stroke="#7a7a7a" stroke-width="0.8" stroke-dasharray="1.1 1.5"/><line x1="582.3" y1="812.4" x2="596.8" y2="812.4" stroke="#5a5a5a" stroke-width="0.7" /><line x1="612.8" y1="812.4" x2="627.3" y2="812.4" stroke="#5a5a5a" stroke-width="0.7" /><text x="604.8" y="816.5" font-size="11.5" text-anchor="middle" fill="#626262" font-weight="normal" >B</text><path d="M582.3 812.4L587.1 810.85L587.1 813.95Z" fill="#5a5a5a"/><path d="M627.3 812.4L622.5 813.95L622.5 810.85Z" fill="#5a5a5a"/><path d="M433.2 963Q427 972,424.6 980.1L449.9 990.3V998.5H456V1008.5H483.4V998.5H488.9V990.3L516.9 980.4Q514 972,507.7 963Z" fill="#fff"/><path d="M561.5 963L565.9 984.4L586.8 990.7V998.7H591.5V1008.5H619V997.6H624.5V990.7L645.7 984.4L649.8 963Z" fill="#fff"/><path d="M640.2 992.1H650.1V999.1H640.2Z" fill="#fff"/><rect x="442.6" y="893.7" width="55.2" height="41.8" fill="url(#gCylV)" stroke="#8d9399" stroke-width="0.9"/><path d="M452 895.5L455.5 891.5L488.1 891.5L488.1 939.3L452 939.3Z M484.6 891.5L488.1 895.5" fill="url(#gBody)" stroke="#8d9399" stroke-width="0.9" stroke-linejoin="round" /><path d="M452 895.5C453 893,455 892,456.5 890L456.5 881L459.2 878L482 878L483.8 881L483.8 890C485 892,487.5 893,488.1 895.5L488.1 935C487.5 938,485 939,483.8 941L483.8 950L482 953L459.2 953L456.5 950L456.5 941C455 939,453 938,452 935Z" fill="url(#gBody)" stroke="#8d9399" stroke-width="0.9" stroke-linejoin="round" /><path d="M459.2 959.5L459.2 878Q459.2 873.5,464 872.8Q470.6 871.8,476.5 872.8Q480.7 873.5,480.7 878L480.7 959.5Z" fill="url(#gBody)" stroke="#8d9399" stroke-width="0.9" stroke-linejoin="round" /><path d="M441.2 975.4A33.7 33.7 0 0 1 500 975.4L478 982.6L463.2 982.6Z" fill="url(#gBody)" stroke="#8d9399" stroke-width="0.9" stroke-linejoin="round" /><line x1="441.2" y1="975.4" x2="500" y2="975.4" stroke="#8d9399" stroke-width="0.9" /><rect x="463.6" y="982.6" width="13.7" height="5.5" fill="url(#gBody)" stroke="#8d9399" stroke-width="0.9"/><rect x="468.8" y="988.1" width="3.4" height="9.7" fill="#5c5c5c"/><line x1="470.6" y1="866.5" x2="470.6" y2="987.7" stroke="#7a7a7a" stroke-width="0.8" stroke-dasharray="1.1 1.5"/><line x1="439" y1="915" x2="501.6" y2="915" stroke="#7a7a7a" stroke-width="0.8" stroke-dasharray="1.1 1.5"/><line x1="442.6" y1="852.4" x2="442.6" y2="894" stroke="#7a7a7a" stroke-width="0.8" stroke-dasharray="1.1 1.5"/><line x1="497.8" y1="852.4" x2="497.8" y2="894" stroke="#7a7a7a" stroke-width="0.8" stroke-dasharray="1.1 1.5"/><line x1="442.6" y1="858.5" x2="462.2" y2="858.5" stroke="#5a5a5a" stroke-width="0.7" /><line x1="478.2" y1="858.5" x2="497.8" y2="858.5" stroke="#5a5a5a" stroke-width="0.7" /><text x="470.2" y="862.6" font-size="11.5" text-anchor="middle" fill="#626262" font-weight="normal" >H</text><path d="M442.6 858.5L447.4 856.95L447.4 860.05Z" fill="#5a5a5a"/><path d="M497.8 858.5L493 860.05L493 856.95Z" fill="#5a5a5a"/><line x1="421.9" y1="899.9" x2="447.4" y2="899.9" stroke="#7a7a7a" stroke-width="0.8" stroke-dasharray="1.1 1.5"/><line x1="421.9" y1="930.5" x2="447.4" y2="930.5" stroke="#7a7a7a" stroke-width="0.8" stroke-dasharray="1.1 1.5"/><line x1="427.5" y1="899.9" x2="427.5" y2="908.8" stroke="#5a5a5a" stroke-width="0.7" /><line x1="427.5" y1="921.8" x2="427.5" y2="930.5" stroke="#5a5a5a" stroke-width="0.7" /><text x="427.3" y="919" font-size="11.5" text-anchor="middle" fill="#626262" font-weight="normal" >d</text><path d="M427.5 899.9L429.05 904.7L425.95 904.7Z" fill="#5a5a5a"/><path d="M427.5 930.5L425.95 925.7L429.05 925.7Z" fill="#5a5a5a"/><line x1="424.5" y1="988.1" x2="468" y2="988.1" stroke="#7a7a7a" stroke-width="0.8" stroke-dasharray="1.1 1.5"/><line x1="424.5" y1="998.1" x2="468" y2="998.1" stroke="#7a7a7a" stroke-width="0.8" stroke-dasharray="1.1 1.5"/><line x1="429.1" y1="978.1" x2="429.1" y2="988.1" stroke="#5a5a5a" stroke-width="0.7" /><line x1="429.1" y1="998.1" x2="429.1" y2="1008.1" stroke="#5a5a5a" stroke-width="0.7" /><path d="M429.1 988.1L427.55 983.3L430.65 983.3Z" fill="#5a5a5a"/><path d="M429.1 998.1L430.65 1002.9L427.55 1002.9Z" fill="#5a5a5a"/><line x1="429.1" y1="988.1" x2="429.1" y2="998.1" stroke="#5a5a5a" stroke-width="0.7" /><text x="419.7" y="997.6" font-size="11.5" text-anchor="middle" fill="#626262" font-weight="normal" >6</text><line x1="468.3" y1="998" x2="468.3" y2="1020" stroke="#7a7a7a" stroke-width="0.8" stroke-dasharray="1.1 1.5"/><line x1="472.6" y1="998" x2="472.6" y2="1020" stroke="#7a7a7a" stroke-width="0.8" stroke-dasharray="1.1 1.5"/><line x1="458.8" y1="1016.3" x2="468.3" y2="1016.3" stroke="#5a5a5a" stroke-width="0.7" /><line x1="472.6" y1="1016.3" x2="482.1" y2="1016.3" stroke="#5a5a5a" stroke-width="0.7" /><path d="M468.3 1016.3L463.5 1017.85L463.5 1014.75Z" fill="#5a5a5a"/><path d="M472.6 1016.3L477.4 1014.75L477.4 1017.85Z" fill="#5a5a5a"/><text x="483.8" y="1011.3" font-size="10.5" text-anchor="middle" fill="#626262" font-weight="normal" >ø4</text><path d="M576.6 975.9L562.9 927A44.1 44.1 0 1 1 648.1 927L635.2 975.9L613.1 982.6L597.9 982.6Z" fill="url(#gBody)" stroke="#8b9197" stroke-width="1.5" stroke-linejoin="round" /><path d="M576.6 975.9A33.7 33.7 0 0 1 635.2 975.9" fill="none" stroke="#8d9399" stroke-width="0.9" stroke-linejoin="round" /><line x1="576.6" y1="975.9" x2="635.2" y2="975.9" stroke="#8b9197" stroke-width="1.2" /><rect x="597.9" y="982.6" width="15.2" height="5.5" fill="url(#gBody)" stroke="#8d9399" stroke-width="0.9"/><rect x="603.5" y="988.1" width="3.4" height="9.9" fill="#5c5c5c"/><circle cx="605.5" cy="915.4" r="37.3" fill="url(#gRingL)" stroke="#9aa0a6" stroke-width="0.8"/><circle cx="605.5" cy="915.4" r="27.2" fill="#e3e3e3" stroke="#7f7f7f" stroke-width="2"/><circle cx="605.5" cy="915.4" r="18.9" fill="#fff" stroke="#8a8a8a" stroke-width="1.6"/><line x1="560.8" y1="915.4" x2="671.2" y2="915.4" stroke="#7a7a7a" stroke-width="0.8" stroke-dasharray="1.1 1.5"/><line x1="605.5" y1="898" x2="605.5" y2="987.7" stroke="#7a7a7a" stroke-width="0.8" stroke-dasharray="1.1 1.5"/><line x1="561.8" y1="852.4" x2="561.8" y2="915" stroke="#7a7a7a" stroke-width="0.8" stroke-dasharray="1.1 1.5"/><line x1="650" y1="852.4" x2="650" y2="915" stroke="#7a7a7a" stroke-width="0.8" stroke-dasharray="1.1 1.5"/><line x1="561.8" y1="858.5" x2="595.9" y2="858.5" stroke="#5a5a5a" stroke-width="0.7" /><line x1="615.9" y1="858.5" x2="650" y2="858.5" stroke="#5a5a5a" stroke-width="0.7" /><text x="605.9" y="862.6" font-size="11.5" text-anchor="middle" fill="#626262" font-weight="normal" >Dt</text><path d="M561.8 858.5L566.6 856.95L566.6 860.05Z" fill="#5a5a5a"/><path d="M650 858.5L645.2 860.05L645.2 856.95Z" fill="#5a5a5a"/><line x1="665.9" y1="915.4" x2="665.9" y2="931.4" stroke="#5a5a5a" stroke-width="0.7" /><line x1="665.9" y1="944.4" x2="665.9" y2="988.1" stroke="#5a5a5a" stroke-width="0.7" /><text x="665.9" y="941.6" font-size="11.5" text-anchor="middle" fill="#626262" font-weight="normal" >l</text><path d="M665.9 915.4L667.45 920.2L664.35 920.2Z" fill="#5a5a5a"/><path d="M665.9 988.1L664.35 983.3L667.45 983.3Z" fill="#5a5a5a"/><line x1="613" y1="988.1" x2="671.2" y2="988.1" stroke="#7a7a7a" stroke-width="0.8" stroke-dasharray="1.1 1.5"/><line x1="538.6" y1="982.6" x2="657.1" y2="982.6" stroke="#7a7a7a" stroke-width="0.8" stroke-dasharray="1.1 1.5"/><line x1="654.4" y1="972.9" x2="654.4" y2="982.6" stroke="#5a5a5a" stroke-width="0.7" /><line x1="654.4" y1="988.1" x2="654.4" y2="997.8" stroke="#5a5a5a" stroke-width="0.7" /><path d="M654.4 982.6L652.85 977.8L655.95 977.8Z" fill="#5a5a5a"/><path d="M654.4 988.1L655.95 992.9L652.85 992.9Z" fill="#5a5a5a"/><text x="645" y="998.6" font-size="11.5" text-anchor="middle" fill="#626262" font-weight="normal" >4</text><line x1="576.6" y1="975.9" x2="542" y2="965.5" stroke="#7a7a7a" stroke-width="0.8" stroke-dasharray="1.1 1.5"/><path d="M547.4 968.2Q545 975,543.3 981.7" fill="none" stroke="#5a5a5a" stroke-width="0.7" stroke-linejoin="round" /><path d="M547.6 967.4L547.59 972.44L544.64 971.49Z" fill="#5a5a5a"/><path d="M543.1 982.3L542.93 977.26L545.91 978.11Z" fill="#5a5a5a"/><text x="536.3" y="977.5" font-size="12.0" text-anchor="middle" fill="#626262" font-weight="normal" >α</text><line x1="597.9" y1="988" x2="597.9" y2="1020" stroke="#7a7a7a" stroke-width="0.8" stroke-dasharray="1.1 1.5"/><line x1="613.1" y1="988" x2="613.1" y2="1020" stroke="#7a7a7a" stroke-width="0.8" stroke-dasharray="1.1 1.5"/><line x1="588.4" y1="1016.3" x2="597.9" y2="1016.3" stroke="#5a5a5a" stroke-width="0.7" /><line x1="613.1" y1="1016.3" x2="622.6" y2="1016.3" stroke="#5a5a5a" stroke-width="0.7" /><path d="M597.9 1016.3L593.1 1017.85L593.1 1014.75Z" fill="#5a5a5a"/><path d="M613.1 1016.3L617.9 1014.75L617.9 1017.85Z" fill="#5a5a5a"/><line x1="597.9" y1="1016.3" x2="613.1" y2="1016.3" stroke="#5a5a5a" stroke-width="0.7" /><text x="603.8" y="1012.7" font-size="11.5" text-anchor="middle" fill="#626262" font-weight="normal" >D</text><text x="610.6" y="1014.7" font-size="7.5" text-anchor="middle" fill="#626262" font-weight="normal" >1</text><line x1="576.6" y1="977" x2="576.6" y2="1030.8" stroke="#7a7a7a" stroke-width="0.8" stroke-dasharray="1.1 1.5"/><line x1="635.2" y1="977" x2="635.2" y2="1030.8" stroke="#7a7a7a" stroke-width="0.8" stroke-dasharray="1.1 1.5"/><line x1="576.6" y1="1027.5" x2="597.9" y2="1027.5" stroke="#5a5a5a" stroke-width="0.7" /><line x1="613.9" y1="1027.5" x2="635.2" y2="1027.5" stroke="#5a5a5a" stroke-width="0.7" /><text x="605.9" y="1031.6" font-size="11.5" text-anchor="middle" fill="#626262" font-weight="normal" >B</text><path d="M576.6 1027.5L581.4 1025.95L581.4 1029.05Z" fill="#5a5a5a"/><path d="M635.2 1027.5L630.4 1029.05L630.4 1025.95Z" fill="#5a5a5a"/><path d="M476.3 1237H522.7V1283H476.3Z" fill="#fff"/><path d="M582.9 1237H628.8V1283H582.9Z" fill="#fff"/><path d="M484.4 1081C485 1078,486.6 1077,487 1075L487 1071Q499.7 1067.8,512.6 1071L512.6 1075C513 1077,514.6 1078,515.1 1081Z" fill="url(#gBody)" stroke="#8d9399" stroke-width="0.9" stroke-linejoin="round" /><path d="M485 1165L487.5 1162.5L487.5 1157L511.9 1157L511.9 1162.5L514.8 1165L514.8 1293.5Q514.8 1296,512 1296L488 1296Q485 1296,485 1293.5Z" fill="url(#gCyl)" stroke="#8d9399" stroke-width="0.9" stroke-linejoin="round" /><rect x="487.5" y="1158" width="24.4" height="139.6" fill="url(#gCyl)" stroke="#8d9399" stroke-width="0.9"/><path d="M487.9 1139.5C486 1143,484.4 1145,484.4 1148.7L484.4 1155.5Q484.4 1157.9,487 1157.9L512.5 1157.9Q515.1 1157.9,515.1 1155.5L515.1 1148.7C515.1 1145,513.5 1143,511.5 1139.5Z" fill="url(#gBody)" stroke="#8d9399" stroke-width="0.9" stroke-linejoin="round" /><path d="M484.4 1126L484.4 1128.2Q484.4 1131.6,487.9 1131.6L487.9 1139.5L492.3 1139.5L492.8 1141.6L495.5 1141.6L496 1139.5L503.4 1139.5L503.9 1141.6L506.6 1141.6L507.1 1139.5L511.5 1139.5L511.5 1131.6Q515.1 1131.6,515.1 1128.2L515.1 1126Z" fill="url(#gBody)" stroke="#8d9399" stroke-width="0.9" stroke-linejoin="round" /><path d="M475 1083.1L482 1083.1Q499.7 1073.8,517.3 1083.1L524.3 1083.1L524.3 1124.4L517.3 1124.4Q499.7 1133,482 1124.4L475 1124.4Z" fill="url(#gBody)" stroke="#8d9399" stroke-width="0.9" stroke-linejoin="round" /><rect x="475" y="1083.1" width="3.1" height="41.3" fill="#c6ccd2"/><rect x="521.2" y="1083.1" width="3.1" height="41.3" fill="#c6ccd2"/><rect x="478.1" y="1088.3" width="43" height="30.2" fill="url(#gCylV)" stroke="#878d93" stroke-width="0.9"/><path d="M475 1083.1L478.1 1088.3M524.3 1083.1L521.1 1088.3M475 1124.4L478.1 1118.5M524.3 1124.4L521.1 1118.5M475 1083.1V1124.4M524.3 1083.1V1124.4" fill="none" stroke="#878d93" stroke-width="1.2" stroke-linejoin="round" /><line x1="478.1" y1="1088.3" x2="521.1" y2="1088.3" stroke="#7d7d7d" stroke-width="1.1" /><line x1="478.1" y1="1118.5" x2="521.1" y2="1118.5" stroke="#7d7d7d" stroke-width="1.1" /><line x1="499.7" y1="1066.7" x2="499.7" y2="1299.4" stroke="#7a7a7a" stroke-width="0.8" stroke-dasharray="1.1 1.5"/><line x1="468.2" y1="1103" x2="530.6" y2="1103" stroke="#7a7a7a" stroke-width="0.8" stroke-dasharray="1.1 1.5"/><line x1="475" y1="1054.2" x2="475" y2="1083" stroke="#7a7a7a" stroke-width="0.8" stroke-dasharray="1.1 1.5"/><line x1="524.3" y1="1054.2" x2="524.3" y2="1083" stroke="#7a7a7a" stroke-width="0.8" stroke-dasharray="1.1 1.5"/><line x1="475" y1="1060.5" x2="491.65" y2="1060.5" stroke="#5a5a5a" stroke-width="0.7" /><line x1="507.65" y1="1060.5" x2="524.3" y2="1060.5" stroke="#5a5a5a" stroke-width="0.7" /><text x="499.65" y="1064.6" font-size="11.5" text-anchor="middle" fill="#626262" font-weight="normal" >H</text><path d="M475 1060.5L479.8 1058.95L479.8 1062.05Z" fill="#5a5a5a"/><path d="M524.3 1060.5L519.5 1062.05L519.5 1058.95Z" fill="#5a5a5a"/><line x1="451.2" y1="1088.3" x2="477" y2="1088.3" stroke="#7a7a7a" stroke-width="0.8" stroke-dasharray="1.1 1.5"/><line x1="451.2" y1="1118.5" x2="477" y2="1118.5" stroke="#7a7a7a" stroke-width="0.8" stroke-dasharray="1.1 1.5"/><line x1="460.1" y1="1088.3" x2="460.1" y2="1096.8" stroke="#5a5a5a" stroke-width="0.7" /><line x1="460.1" y1="1109.8" x2="460.1" y2="1118.5" stroke="#5a5a5a" stroke-width="0.7" /><text x="459.9" y="1107" font-size="11.5" text-anchor="middle" fill="#626262" font-weight="normal" >d</text><path d="M460.1 1088.3L461.65 1093.1L458.55 1093.1Z" fill="#5a5a5a"/><path d="M460.1 1118.5L458.55 1113.7L461.65 1113.7Z" fill="#5a5a5a"/><line x1="499.7" y1="1103" x2="555.5" y2="1090.9" stroke="#7a7a7a" stroke-width="0.8" stroke-dasharray="1.1 1.5"/><line x1="499.7" y1="1103" x2="555.5" y2="1114.8" stroke="#7a7a7a" stroke-width="0.8" stroke-dasharray="1.1 1.5"/><path d="M549.6 1087.7Q553.8 1103,549.6 1117.8" fill="none" stroke="#5a5a5a" stroke-width="0.7" stroke-linejoin="round" /><path d="M549.3 1086.8L552.11 1090.99L549.13 1091.84Z" fill="#5a5a5a"/><path d="M549.3 1118.7L549.13 1113.66L552.11 1114.51Z" fill="#5a5a5a"/><text x="544.3" y="1106" font-size="9.5" text-anchor="middle" fill="#626262" font-weight="normal" >30°</text><path d="M593.3 1158L593.3 1162.5L590.9 1165L590.9 1295Q590.9 1297.6,593.5 1297.6L617.5 1297.6Q620.1 1297.6,620.1 1295L620.1 1165L617.8 1162.5L617.8 1158Z" fill="url(#gCyl)" stroke="#8d9399" stroke-width="0.9" stroke-linejoin="round" /><rect x="593.3" y="1158" width="24.5" height="139.6" fill="url(#gCyl)" stroke="#8d9399" stroke-width="0.9"/><path d="M590.9 1158.1L571.8 1116A36.2 35 0 1 1 639.4 1116L620.8 1158.1Z" fill="url(#gBody)" stroke="#8b9197" stroke-width="1.5" stroke-linejoin="round" /><path d="M592.2 1158L592.2 1153.5A13.6 13.6 0 0 1 619.5 1153.5L619.5 1158" fill="url(#gBody)" stroke="#8d9399" stroke-width="0.9" stroke-linejoin="round" /><circle cx="605.6" cy="1103" r="29.1" fill="#f4f6f8" stroke="#9aa0a6" stroke-width="0.7"/><circle cx="605.6" cy="1103" r="27.1" fill="url(#gRingL)" stroke="#9aa0a6" stroke-width="0.7"/><circle cx="605.6" cy="1103" r="20.6" fill="#828282" stroke="#777" stroke-width="0.5"/><circle cx="605.6" cy="1103" r="14.8" fill="#e2e2e2" stroke="#999" stroke-width="0.5"/><circle cx="605.6" cy="1103" r="13.4" fill="#fff" stroke="#aaa" stroke-width="0.5"/><line x1="566.6" y1="1103" x2="672.3" y2="1103" stroke="#7a7a7a" stroke-width="0.8" stroke-dasharray="1.1 1.5"/><line x1="605.6" y1="1064" x2="605.6" y2="1299.4" stroke="#7a7a7a" stroke-width="0.8" stroke-dasharray="1.1 1.5"/><line x1="569.5" y1="1054.2" x2="569.5" y2="1103" stroke="#7a7a7a" stroke-width="0.8" stroke-dasharray="1.1 1.5"/><line x1="641.8" y1="1054.2" x2="641.8" y2="1103" stroke="#7a7a7a" stroke-width="0.8" stroke-dasharray="1.1 1.5"/><line x1="569.5" y1="1060.5" x2="597.15" y2="1060.5" stroke="#5a5a5a" stroke-width="0.7" /><line x1="614.15" y1="1060.5" x2="641.8" y2="1060.5" stroke="#5a5a5a" stroke-width="0.7" /><text x="605.65" y="1064.6" font-size="11.5" text-anchor="middle" fill="#626262" font-weight="normal" >Dt</text><path d="M569.5 1060.5L574.3 1058.95L574.3 1062.05Z" fill="#5a5a5a"/><path d="M641.8 1060.5L637 1062.05L637 1058.95Z" fill="#5a5a5a"/><line x1="651.5" y1="1103" x2="651.5" y2="1124.3" stroke="#5a5a5a" stroke-width="0.7" /><line x1="651.5" y1="1137.3" x2="651.5" y2="1158.1" stroke="#5a5a5a" stroke-width="0.7" /><text x="651.5" y="1134.5" font-size="11.5" text-anchor="middle" fill="#626262" font-weight="normal" >l</text><path d="M651.5 1103L653.05 1107.8L649.95 1107.8Z" fill="#5a5a5a"/><path d="M651.5 1158.1L649.95 1153.3L653.05 1153.3Z" fill="#5a5a5a"/><line x1="621" y1="1158.1" x2="657.2" y2="1158.1" stroke="#7a7a7a" stroke-width="0.8" stroke-dasharray="1.1 1.5"/><line x1="651.5" y1="1158.1" x2="651.5" y2="1214.6" stroke="#5a5a5a" stroke-width="0.7" /><line x1="651.5" y1="1230.6" x2="651.5" y2="1297.6" stroke="#5a5a5a" stroke-width="0.7" /><text x="650.9" y="1226.3" font-size="11.5" text-anchor="middle" fill="#626262" font-weight="normal" >Lf</text><path d="M651.5 1158.1L653.05 1162.9L649.95 1162.9Z" fill="#5a5a5a"/><path d="M651.5 1297.6L649.95 1292.8L653.05 1292.8Z" fill="#5a5a5a"/><line x1="667.7" y1="1103" x2="667.7" y2="1214.6" stroke="#5a5a5a" stroke-width="0.7" /><line x1="667.7" y1="1230.6" x2="667.7" y2="1297.6" stroke="#5a5a5a" stroke-width="0.7" /><text x="667.9" y="1226.3" font-size="11.5" text-anchor="middle" fill="#626262" font-weight="normal" >L</text><path d="M667.7 1103L669.25 1107.8L666.15 1107.8Z" fill="#5a5a5a"/><path d="M667.7 1297.6L666.15 1292.8L669.25 1292.8Z" fill="#5a5a5a"/><line x1="620.5" y1="1297.4" x2="673.8" y2="1297.4" stroke="#7a7a7a" stroke-width="0.8" stroke-dasharray="1.1 1.5"/><line x1="590.8" y1="1298" x2="590.8" y2="1320.5" stroke="#7a7a7a" stroke-width="0.8" stroke-dasharray="1.1 1.5"/><line x1="620" y1="1298" x2="620" y2="1320.5" stroke="#7a7a7a" stroke-width="0.8" stroke-dasharray="1.1 1.5"/><line x1="590.8" y1="1315.9" x2="620" y2="1315.9" stroke="#5a5a5a" stroke-width="0.7" /><path d="M590.8 1315.9L595.6 1314.35L595.6 1317.45Z" fill="#5a5a5a"/><path d="M620 1315.9L615.2 1317.45L615.2 1314.35Z" fill="#5a5a5a"/><text x="605.6" y="1311" font-size="11.5" text-anchor="middle" fill="#626262" font-weight="normal" >Df</text><defs>
<linearGradient id="gTube" x1="0" y1="0" x2="0" y2="1"><stop offset="0" stop-color="#dfe8f1"/><stop offset="0.55" stop-color="#f1f5fa"/><stop offset="1" stop-color="#dde6f0"/></linearGradient>
<linearGradient id="gClevL" x1="0" y1="0" x2="1" y2="0"><stop offset="0" stop-color="#c8c8c8"/><stop offset="0.4" stop-color="#f6f6f6"/><stop offset="0.75" stop-color="#f0f0f0"/><stop offset="1" stop-color="#cfcfcf"/></linearGradient>
<linearGradient id="gClevR" x1="0" y1="0" x2="1" y2="0"><stop offset="0" stop-color="#d2d2d2"/><stop offset="0.3" stop-color="#f6f6f6"/><stop offset="0.55" stop-color="#f1f1f1"/><stop offset="0.85" stop-color="#c4c4c4"/><stop offset="1" stop-color="#c4c4c4"/></linearGradient>
</defs><path d="M1364.6 257H1720.2V294.7H1651.5V288.6H1594V284.5H1551V290Q1550 302.5,1536.5 302.5Q1523 302.5,1522 290V284.5H1463.3V288H1433.3V294.7H1364.6Z" fill="#fff"/><rect x="1433" y="251.2" width="11.5" height="17.4" fill="#f3f3f3" stroke="#8d9399" stroke-width="0.8"/><rect x="1436.3" y="254.3" width="8.2" height="11.4" fill="#fff" stroke="#8d9399" stroke-width="0.8"/><path d="M1378.7 241.9L1416 241.9A18.4 18.4 0 0 1 1416 278.6L1378.7 278.6L1378.7 269.6L1417.5 269.6A9.4 9.4 0 0 0 1417.5 250.8L1378.7 250.8Z" fill="url(#gClevL)" stroke="#8d9399" stroke-width="0.9" stroke-linejoin="round" /><line x1="1370.5" y1="238.5" x2="1423.9" y2="238.5" stroke="#9a9a9a" stroke-width="0.7" /><rect x="1375.2" y="236.3" width="46.4" height="3.9" fill="#d9d9d9" stroke="#909090" stroke-width="0.8"/><line x1="1414" y1="236.3" x2="1414" y2="240.2" stroke="#909090" stroke-width="0.7" /><rect x="1387.4" y="233.4" width="9.2" height="2.9" fill="#cfcfcf" stroke="#909090" stroke-width="0.8"/><line x1="1370.5" y1="282" x2="1423.9" y2="282" stroke="#9a9a9a" stroke-width="0.7" /><rect x="1375.2" y="280.4" width="46.4" height="4.1" fill="#d9d9d9" stroke="#909090" stroke-width="0.8"/><line x1="1414" y1="280.4" x2="1414" y2="284.5" stroke="#909090" stroke-width="0.7" /><rect x="1387.4" y="284.5" width="9.2" height="2.3" fill="#cfcfcf" stroke="#909090" stroke-width="0.8"/><rect x="1387.4" y="240.2" width="9.2" height="1.9" fill="#bdbdbd"/><rect x="1387.4" y="278.6" width="9.2" height="1.9" fill="#bdbdbd"/><line x1="1387.4" y1="248" x2="1387.4" y2="272" stroke="#8a8a8a" stroke-width="0.8" /><line x1="1396.6" y1="248" x2="1396.6" y2="272" stroke="#8a8a8a" stroke-width="0.8" /><rect x="1533.4" y="232.9" width="4.2" height="11.1" fill="url(#gCyl)" stroke="#8d9399" stroke-width="0.8"/><rect x="1530.2" y="225" width="10.6" height="7.8" rx="3.6" fill="url(#gCyl)" stroke="#8d9399" stroke-width="0.8"/><rect x="1533.4" y="276.4" width="4.2" height="11.1" fill="url(#gCyl)" stroke="#8d9399" stroke-width="0.8"/><rect x="1530.2" y="287.6" width="10.6" height="7.8" rx="3.6" fill="url(#gCyl)" stroke="#8d9399" stroke-width="0.8"/><rect x="1444.5" y="226.9" width="6.4" height="53.5" rx="0.8" fill="url(#gCyl)" stroke="#8d9399" stroke-width="0.9"/><path d="M1450.9 246.9L1476.2 246.9L1476.2 273.6L1450.9 273.6Z" fill="url(#gTube)" stroke="#8d9399" stroke-width="0.9" stroke-linejoin="round" /><path d="M1476.2 246.6Q1486.85 244.4,1497.5 244.2L1497.5 276.6Q1486.85 276.4,1476.2 274Z" fill="url(#gTube)" stroke="#8d9399" stroke-width="0.9" stroke-linejoin="round" /><path d="M1497.5 244.2L1573.5 244.2L1573.5 276.6L1497.5 276.6Z" fill="url(#gTube)" stroke="#8d9399" stroke-width="0.9" stroke-linejoin="round" /><path d="M1573.5 244.2Q1583.45 244.4,1593.4 246.6L1593.4 274Q1583.45 276.4,1573.5 276.6Z" fill="url(#gTube)" stroke="#8d9399" stroke-width="0.9" stroke-linejoin="round" /><path d="M1593.4 246.9L1619.8 246.9L1619.8 273.6L1593.4 273.6Z" fill="url(#gTube)" stroke="#8d9399" stroke-width="0.9" stroke-linejoin="round" /><rect x="1619.8" y="251.2" width="8.5" height="17.4" fill="#f3f3f3" stroke="#8d9399" stroke-width="0.8"/><rect x="1619.8" y="254.3" width="5" height="11.4" fill="#fff" stroke="#8d9399" stroke-width="0.8"/><path d="M1692 244.2L1644 244.2A16.1 16.1 0 0 0 1644 276.3L1692 276.3L1692 267.5L1645.8 267.5A7.2 7.2 0 0 1 1645.8 253.1L1692 253.1Z" fill="url(#gClevR)" stroke="#8d9399" stroke-width="0.9" stroke-linejoin="round" /><path d="M1631 251.5Q1627.4 260.2,1631 269" fill="none" stroke="#8d9399" stroke-width="0.9" stroke-linejoin="round" /><line x1="1656.8" y1="240.6" x2="1710.8" y2="240.6" stroke="#9a9a9a" stroke-width="0.7" /><rect x="1661.5" y="238.5" width="46.4" height="4.3" fill="#d9d9d9" stroke="#909090" stroke-width="0.8"/><line x1="1698" y1="238.5" x2="1698" y2="242.8" stroke="#909090" stroke-width="0.7" /><rect x="1674" y="235.7" width="9" height="2.8" fill="#cfcfcf" stroke="#909090" stroke-width="0.8"/><line x1="1656.8" y1="280.4" x2="1710.8" y2="280.4" stroke="#9a9a9a" stroke-width="0.7" /><rect x="1661.5" y="278.3" width="46.4" height="4.2" fill="#d9d9d9" stroke="#909090" stroke-width="0.8"/><line x1="1698" y1="278.3" x2="1698" y2="282.5" stroke="#909090" stroke-width="0.7" /><rect x="1674" y="282.5" width="9" height="2.6" fill="#cfcfcf" stroke="#909090" stroke-width="0.8"/><rect x="1674" y="242.8" width="9" height="1.6" fill="#bdbdbd"/><rect x="1674" y="276.3" width="9" height="2" fill="#bdbdbd"/><line x1="1674" y1="249" x2="1674" y2="271.5" stroke="#8a8a8a" stroke-width="0.8" /><line x1="1683" y1="249" x2="1683" y2="271.5" stroke="#8a8a8a" stroke-width="0.8" /><line x1="1371.1" y1="260.2" x2="1699.1" y2="260.2" stroke="#7a7a7a" stroke-width="0.8" stroke-dasharray="1.1 1.5"/><line x1="1392" y1="181.7" x2="1392" y2="291.5" stroke="#7a7a7a" stroke-width="0.8" stroke-dasharray="1.1 1.5"/><line x1="1678.5" y1="180.6" x2="1678.5" y2="287.4" stroke="#7a7a7a" stroke-width="0.8" stroke-dasharray="1.1 1.5"/><line x1="1392" y1="186.4" x2="1527.25" y2="186.4" stroke="#5a5a5a" stroke-width="0.7" /><line x1="1543.25" y1="186.4" x2="1678.5" y2="186.4" stroke="#5a5a5a" stroke-width="0.7" /><text x="1535.25" y="190.5" font-size="11.5" text-anchor="middle" fill="#626262" font-weight="normal" >L</text><path d="M1392 186.4L1396.8 184.85L1396.8 187.95Z" fill="#5a5a5a"/><path d="M1678.5 186.4L1673.7 187.95L1673.7 184.85Z" fill="#5a5a5a"/><line x1="1426.5" y1="200.8" x2="1426.5" y2="260" stroke="#7a7a7a" stroke-width="0.8" stroke-dasharray="1.1 1.5"/><line x1="1392" y1="206.8" x2="1402.75" y2="206.8" stroke="#5a5a5a" stroke-width="0.7" /><line x1="1415.75" y1="206.8" x2="1426.5" y2="206.8" stroke="#5a5a5a" stroke-width="0.7" /><text x="1409.25" y="210.9" font-size="11.5" text-anchor="middle" fill="#626262" font-weight="normal" >h</text><path d="M1392 206.8L1396.8 205.25L1396.8 208.35Z" fill="#5a5a5a"/><path d="M1426.5 206.8L1421.7 208.35L1421.7 205.25Z" fill="#5a5a5a"/><line x1="1450.7" y1="200.8" x2="1450.7" y2="225.2" stroke="#7a7a7a" stroke-width="0.8" stroke-dasharray="1.1 1.5"/><line x1="1619.8" y1="200.8" x2="1619.8" y2="246" stroke="#7a7a7a" stroke-width="0.8" stroke-dasharray="1.1 1.5"/><line x1="1450.7" y1="206.8" x2="1526.75" y2="206.8" stroke="#5a5a5a" stroke-width="0.7" /><line x1="1543.75" y1="206.8" x2="1619.8" y2="206.8" stroke="#5a5a5a" stroke-width="0.7" /><text x="1535.25" y="210.9" font-size="11.5" text-anchor="middle" fill="#626262" font-weight="normal" >M</text><path d="M1450.7 206.8L1455.5 205.25L1455.5 208.35Z" fill="#5a5a5a"/><path d="M1619.8 206.8L1615 208.35L1615 205.25Z" fill="#5a5a5a"/><line x1="1638.6" y1="200.8" x2="1638.6" y2="260" stroke="#7a7a7a" stroke-width="0.8" stroke-dasharray="1.1 1.5"/><line x1="1638.6" y1="206.8" x2="1678.5" y2="206.8" stroke="#5a5a5a" stroke-width="0.7" /><path d="M1638.6 206.8L1643.4 205.25L1643.4 208.35Z" fill="#5a5a5a"/><path d="M1678.5 206.8L1673.7 208.35L1673.7 205.25Z" fill="#5a5a5a"/><rect x="1651" y="203" width="15" height="8" fill="#fff"/><text x="1658.6" y="210.9" font-size="11.5" text-anchor="middle" fill="#5a5a5a">h<tspan font-size="7.82" dy="2.2">1</tspan></text><line x1="1343.5" y1="250.8" x2="1378.7" y2="250.8" stroke="#7a7a7a" stroke-width="0.8" stroke-dasharray="1.1 1.5"/><line x1="1343.5" y1="269.6" x2="1378.7" y2="269.6" stroke="#7a7a7a" stroke-width="0.8" stroke-dasharray="1.1 1.5"/><line x1="1352.9" y1="241.3" x2="1352.9" y2="250.8" stroke="#5a5a5a" stroke-width="0.7" /><line x1="1352.9" y1="269.6" x2="1352.9" y2="279.1" stroke="#5a5a5a" stroke-width="0.7" /><path d="M1352.9 250.8L1351.35 246L1354.45 246Z" fill="#5a5a5a"/><path d="M1352.9 269.6L1354.45 274.4L1351.35 274.4Z" fill="#5a5a5a"/><text x="1345.9" y="264.3" font-size="11.5" text-anchor="middle" fill="#626262" font-weight="normal" >H</text><line x1="1387.3" y1="287" x2="1387.3" y2="310.3" stroke="#7a7a7a" stroke-width="0.8" stroke-dasharray="1.1 1.5"/><line x1="1396.7" y1="287" x2="1396.7" y2="310.3" stroke="#7a7a7a" stroke-width="0.8" stroke-dasharray="1.1 1.5"/><line x1="1375.5" y1="304.7" x2="1387.3" y2="304.7" stroke="#5a5a5a" stroke-width="0.7" /><line x1="1396.7" y1="304.7" x2="1408.5" y2="304.7" stroke="#5a5a5a" stroke-width="0.7" /><path d="M1387.3 304.7L1382.5 306.25L1382.5 303.15Z" fill="#5a5a5a"/><path d="M1396.7 304.7L1401.5 303.15L1401.5 306.25Z" fill="#5a5a5a"/><line x1="1387.3" y1="304.7" x2="1396.7" y2="304.7" stroke="#5a5a5a" stroke-width="0.7" /><text x="1392.2" y="322" font-size="11.5" text-anchor="middle" fill="#626262" font-weight="normal" >D</text><line x1="1625.1" y1="239.3" x2="1625.1" y2="251.2" stroke="#5a5a5a" stroke-width="0.7" /><path d="M1625.1 251.2L1623.55 246.4L1626.65 246.4Z" fill="#5a5a5a"/><line x1="1625.1" y1="268.6" x2="1625.1" y2="309.7" stroke="#5a5a5a" stroke-width="0.7" /><path d="M1625.1 268.6L1626.65 273.4L1623.55 273.4Z" fill="#5a5a5a"/><text x="1626.9" y="322" font-size="11.5" text-anchor="middle" fill="#626262" font-weight="normal" >Df</text><line x1="1692" y1="253.1" x2="1727.3" y2="253.1" stroke="#7a7a7a" stroke-width="0.8" stroke-dasharray="1.1 1.5"/><line x1="1692" y1="267.5" x2="1727.3" y2="267.5" stroke="#7a7a7a" stroke-width="0.8" stroke-dasharray="1.1 1.5"/><line x1="1717.6" y1="243.6" x2="1717.6" y2="253.1" stroke="#5a5a5a" stroke-width="0.7" /><line x1="1717.6" y1="267.5" x2="1717.6" y2="277" stroke="#5a5a5a" stroke-width="0.7" /><path d="M1717.6 253.1L1716.05 248.3L1719.15 248.3Z" fill="#5a5a5a"/><path d="M1717.6 267.5L1719.15 272.3L1716.05 272.3Z" fill="#5a5a5a"/><text x="1727.9" y="264.3" font-size="11.5" text-anchor="middle" fill="#5a5a5a">H<tspan font-size="7.82" dy="2.2">1</tspan></text><line x1="1673.9" y1="286" x2="1673.9" y2="310.3" stroke="#7a7a7a" stroke-width="0.8" stroke-dasharray="1.1 1.5"/><line x1="1683" y1="286" x2="1683" y2="310.3" stroke="#7a7a7a" stroke-width="0.8" stroke-dasharray="1.1 1.5"/><line x1="1661.6" y1="304.7" x2="1673.9" y2="304.7" stroke="#5a5a5a" stroke-width="0.7" /><line x1="1683" y1="304.7" x2="1695.3" y2="304.7" stroke="#5a5a5a" stroke-width="0.7" /><path d="M1673.9 304.7L1669.1 306.25L1669.1 303.15Z" fill="#5a5a5a"/><path d="M1683 304.7L1687.8 303.15L1687.8 306.25Z" fill="#5a5a5a"/><line x1="1673.9" y1="304.7" x2="1683" y2="304.7" stroke="#5a5a5a" stroke-width="0.7" /><text x="1677.4" y="322" font-size="11.5" text-anchor="middle" fill="#5a5a5a">D<tspan font-size="7.82" dy="2.2">1</tspan></text><path d="M1354 537.5H1738.4V548Q1738 573,1706 573Q1692 572,1686 568L1648.6 561V575Q1648 581,1636 581Q1624.5 581,1624 575V560.4L1617 563.3H1558.2V570Q1557 577.5,1545.5 577.5Q1534 577.5,1533 570V563.1H1466.8V559.8H1401V566.3H1370.5V553.9H1354Z" fill="#fff"/><g transform="translate(1384.6 539.3) scale(1.0 1.0)"><circle cx="0" cy="0" r="16.5" fill="url(#gBody)" stroke="#8d9399" stroke-width="0.9"/><rect x="-14.1" y="-9.4" width="27.6" height="19.4" rx="2.6" fill="#e1e7ee" stroke="#8d9399" stroke-width="0.8"/><rect x="-19.4" y="-6.7" width="38.8" height="13.7" rx="2.6" fill="#d3d9e0" stroke="#8d9399" stroke-width="0.8"/><path d="M-19.8 -4.1Q-22.3 -4.1,-22.3 -1.8L-22.3 2Q-22.3 4.3,-19.8 4.3L20 4.3L20 -4.1Z" fill="url(#gBody)" stroke="#8d9399" stroke-width="0.9" stroke-linejoin="round" /><rect x="-6.5" y="-16.8" width="12.9" height="33.8" fill="#eef3f8" fill-opacity="0.6" stroke="#8d9399" stroke-width="0.9"/><rect x="-6.5" y="-16.8" width="12.9" height="2.4" fill="#b5b5b5" stroke="#8a8a8a" stroke-width="0.6"/><rect x="-6.5" y="14.6" width="12.9" height="2.4" fill="#b5b5b5" stroke="#8a8a8a" stroke-width="0.6"/></g><path d="M1404.5 535.05L1413.9 535.05C1416.4 535.05,1415.9 529.2,1418.9 529.2L1434.5 529.2L1434.5 549.4L1418.9 549.4C1415.9 549.4,1416.4 543.55,1413.9 543.55L1404.5 543.55Z" fill="url(#gBody)" stroke="#8d9399" stroke-width="0.9" stroke-linejoin="round" /><path d="M1413.9 535.05L1426.5 535.05Q1428.5 535.05,1428.5 533.05L1428.5 531.55M1413.9 543.55L1426.5 543.55Q1428.5 543.55,1428.5 545.55L1428.5 547.05" fill="none" stroke="#8d9399" stroke-width="0.8" stroke-linejoin="round" /><rect x="1434.5" y="533" width="3.3" height="12.7" fill="#fff" stroke="#8d9399" stroke-width="0.8"/><rect x="1437.8" y="530.2" width="12.9" height="18.1" fill="#fff" stroke="#8d9399" stroke-width="0.8"/><line x1="1437.8" y1="533" x2="1450.7" y2="533" stroke="#8d9399" stroke-width="0.7" /><line x1="1437.8" y1="545.7" x2="1450.7" y2="545.7" stroke="#8d9399" stroke-width="0.7" /><line x1="1545.4" y1="526.3" x2="1545.4" y2="509.3" stroke="#7a7a7a" stroke-width="0.8" stroke-dasharray="1.1 1.5"/><rect x="1543.9" y="517.3" width="3" height="8.5" fill="#dcdcdc" stroke="#999" stroke-width="0.5" stroke-dasharray="1 1"/><rect x="1541.2" y="510.9" width="8.4" height="6.2" rx="3" fill="#f4f4f4" stroke="#8d9399" stroke-width="0.8"/><line x1="1545.4" y1="552.3" x2="1545.4" y2="569.3" stroke="#7a7a7a" stroke-width="0.8" stroke-dasharray="1.1 1.5"/><rect x="1543.9" y="552.8" width="3" height="8.5" fill="#dcdcdc" stroke="#999" stroke-width="0.5" stroke-dasharray="1 1"/><rect x="1541.2" y="561.5" width="8.4" height="6.2" rx="3" fill="#f4f4f4" stroke="#8d9399" stroke-width="0.8"/><path d="M1450.7 528.1L1467.4 528.1L1467.4 550.4L1450.7 550.4Z" fill="url(#gTube)" stroke="#8d9399" stroke-width="0.9" stroke-linejoin="round" /><path d="M1467.4 528.1Q1468.5 526.4,1472.6 526.1L1612.8 526.1Q1616 526.5,1617.5 528.3L1617.5 550.4Q1616 552.4,1612.8 552.8L1472.6 552.8Q1468.5 552.5,1467.4 550.4Z" fill="url(#gTube)" stroke="#8d9399" stroke-width="0.9" stroke-linejoin="round" /><line x1="1472.6" y1="526.1" x2="1472.6" y2="552.8" stroke="#8d9399" stroke-width="0.8" /><line x1="1612.8" y1="526.1" x2="1612.8" y2="552.8" stroke="#8d9399" stroke-width="0.8" /><path d="M1617.5 528.4L1633.9 528.4L1633.9 550.4L1617.5 550.4Z" fill="url(#gTube)" stroke="#8d9399" stroke-width="0.9" stroke-linejoin="round" /><rect x="1633.9" y="523.4" width="6.7" height="48.1" rx="2.2" fill="url(#gCyl)" stroke="#8d9399" stroke-width="0.9"/><rect x="1640.6" y="530.4" width="17.1" height="18.2" fill="#fff" stroke="#8d9399" stroke-width="0.8"/><line x1="1640.6" y1="533.4" x2="1657.7" y2="533.4" stroke="#8d9399" stroke-width="0.7" /><line x1="1640.6" y1="545.7" x2="1657.7" y2="545.7" stroke="#8d9399" stroke-width="0.7" /><rect x="1657.7" y="533.4" width="3.6" height="12.3" fill="#fff" stroke="#8d9399" stroke-width="0.8"/><path d="M1661.3 526.3L1700 517.4A22.6 22.2 0 1 1 1700 561.2L1661.3 552.8Z" fill="url(#gBody)" stroke="#8d9399" stroke-width="0.9" stroke-linejoin="round" /><path d="M1661.3 526.3Q1675.6 528,1675.6 539.3Q1675.6 551,1661.3 552.8" fill="none" stroke="#8d9399" stroke-width="0.9" stroke-linejoin="round" /><circle cx="1705.8" cy="539.3" r="18.5" fill="url(#gRingL)" stroke="#8d9399" stroke-width="0.8"/><circle cx="1705.8" cy="539.3" r="14.6" fill="#d4d4d4" stroke="#aaa" stroke-width="0.5"/><circle cx="1705.8" cy="539.3" r="11.4" fill="none" stroke="#858585" stroke-width="4.6"/><circle cx="1705.8" cy="539.3" r="11.4" fill="none" stroke="#a4a4a4" stroke-width="1"/><circle cx="1705.8" cy="539.3" r="9.1" fill="#fff" stroke="#777" stroke-width="0.6"/><line x1="1358.2" y1="539.3" x2="1733.7" y2="539.3" stroke="#7a7a7a" stroke-width="0.8" stroke-dasharray="1.1 1.5"/><line x1="1384.8" y1="473.5" x2="1384.8" y2="560.4" stroke="#7a7a7a" stroke-width="0.8" stroke-dasharray="1.1 1.5"/><line x1="1705.8" y1="471.7" x2="1705.8" y2="566.8" stroke="#7a7a7a" stroke-width="0.8" stroke-dasharray="1.1 1.5"/><line x1="1384.8" y1="477.8" x2="1532.9" y2="477.8" stroke="#5a5a5a" stroke-width="0.7" /><line x1="1550.9" y1="477.8" x2="1705.8" y2="477.8" stroke="#5a5a5a" stroke-width="0.7" /><text x="1541.9" y="481.9" font-size="11.5" text-anchor="middle" fill="#626262" font-weight="normal" >L</text><path d="M1384.8 477.8L1389.6 476.25L1389.6 479.35Z" fill="#5a5a5a"/><path d="M1705.8 477.8L1701 479.35L1701 476.25Z" fill="#5a5a5a"/><line x1="1451.3" y1="491.9" x2="1451.3" y2="528.7" stroke="#7a7a7a" stroke-width="0.8" stroke-dasharray="1.1 1.5"/><line x1="1633.9" y1="491.9" x2="1633.9" y2="523.4" stroke="#7a7a7a" stroke-width="0.8" stroke-dasharray="1.1 1.5"/><line x1="1451.3" y1="498.2" x2="1532.4" y2="498.2" stroke="#5a5a5a" stroke-width="0.7" /><line x1="1551.4" y1="498.2" x2="1633.9" y2="498.2" stroke="#5a5a5a" stroke-width="0.7" /><text x="1541.9" y="502.3" font-size="11.5" text-anchor="middle" fill="#626262" font-weight="normal" >M</text><path d="M1451.3 498.2L1456.1 496.65L1456.1 499.75Z" fill="#5a5a5a"/><path d="M1633.9 498.2L1629.1 499.75L1629.1 496.65Z" fill="#5a5a5a"/><line x1="1336.4" y1="522.5" x2="1378" y2="522.5" stroke="#7a7a7a" stroke-width="0.8" stroke-dasharray="1.1 1.5"/><line x1="1336.4" y1="556.3" x2="1378" y2="556.3" stroke="#7a7a7a" stroke-width="0.8" stroke-dasharray="1.1 1.5"/><line x1="1347" y1="513" x2="1347" y2="522.5" stroke="#5a5a5a" stroke-width="0.7" /><line x1="1347" y1="556.3" x2="1347" y2="565.8" stroke="#5a5a5a" stroke-width="0.7" /><path d="M1347 522.5L1345.45 517.7L1348.55 517.7Z" fill="#5a5a5a"/><path d="M1347 556.3L1348.55 561.1L1345.45 561.1Z" fill="#5a5a5a"/><line x1="1347" y1="522.5" x2="1347" y2="556.3" stroke="#5a5a5a" stroke-width="0.7" /><text x="1340" y="541.9" font-size="11.5" text-anchor="middle" fill="#626262" font-weight="normal" >H</text><line x1="1378.1" y1="557" x2="1378.1" y2="579.2" stroke="#7a7a7a" stroke-width="0.8" stroke-dasharray="1.1 1.5"/><line x1="1391" y1="557" x2="1391" y2="579.2" stroke="#7a7a7a" stroke-width="0.8" stroke-dasharray="1.1 1.5"/><line x1="1366" y1="574.5" x2="1378.1" y2="574.5" stroke="#5a5a5a" stroke-width="0.7" /><line x1="1391" y1="574.5" x2="1403.1" y2="574.5" stroke="#5a5a5a" stroke-width="0.7" /><path d="M1378.1 574.5L1373.3 576.05L1373.3 572.95Z" fill="#5a5a5a"/><path d="M1391 574.5L1395.8 572.95L1395.8 576.05Z" fill="#5a5a5a"/><line x1="1378.1" y1="574.5" x2="1391" y2="574.5" stroke="#5a5a5a" stroke-width="0.7" /><text x="1384.2" y="589.7" font-size="11.5" text-anchor="middle" fill="#626262" font-weight="normal" >D</text><line x1="1649.5" y1="518.7" x2="1649.5" y2="530.4" stroke="#5a5a5a" stroke-width="0.7" /><path d="M1649.5 530.4L1647.95 525.6L1651.05 525.6Z" fill="#5a5a5a"/><line x1="1649.5" y1="548.6" x2="1649.5" y2="578.6" stroke="#5a5a5a" stroke-width="0.7" /><path d="M1649.5 548.6L1651.05 553.4L1647.95 553.4Z" fill="#5a5a5a"/><text x="1651.2" y="589.7" font-size="11.5" text-anchor="middle" fill="#626262" font-weight="normal" >Df</text><line x1="1696.5" y1="550.4" x2="1696.5" y2="579.2" stroke="#7a7a7a" stroke-width="0.8" stroke-dasharray="1.1 1.5"/><line x1="1715.5" y1="550.4" x2="1715.5" y2="579.2" stroke="#7a7a7a" stroke-width="0.8" stroke-dasharray="1.1 1.5"/><line x1="1684.3" y1="574.5" x2="1696.5" y2="574.5" stroke="#5a5a5a" stroke-width="0.7" /><line x1="1715.5" y1="574.5" x2="1727.7" y2="574.5" stroke="#5a5a5a" stroke-width="0.7" /><path d="M1696.5 574.5L1691.7 576.05L1691.7 572.95Z" fill="#5a5a5a"/><path d="M1715.5 574.5L1720.3 572.95L1720.3 576.05Z" fill="#5a5a5a"/><line x1="1696.5" y1="574.5" x2="1715.5" y2="574.5" stroke="#5a5a5a" stroke-width="0.7" /><text x="1705.5" y="589.7" font-size="11.5" text-anchor="middle" fill="#626262" font-weight="normal" >d</text><path d="M1358.2 717H1703.8V727H1720.2V753H1653.3V747.7H1560V752Q1559 762.5,1545 762.5Q1531 762.5,1529.5 752L1528.4 748.3L1475 745.4V751.8H1447.4V741.3H1409.3V751.8H1373.7V738.3H1358.2Z" fill="#fff"/><g transform="translate(1392.05 720.9) scale(1.057 1.23)"><circle cx="0" cy="0" r="16.5" fill="url(#gBody)" stroke="#8d9399" stroke-width="0.9"/><rect x="-14.1" y="-9.4" width="27.6" height="19.4" rx="2.6" fill="#e1e7ee" stroke="#8d9399" stroke-width="0.8"/><rect x="-19.4" y="-6.7" width="38.8" height="13.7" rx="2.6" fill="#d3d9e0" stroke="#8d9399" stroke-width="0.8"/><path d="M-19.8 -4.1Q-22.3 -4.1,-22.3 -1.8L-22.3 2Q-22.3 4.3,-19.8 4.3L20 4.3L20 -4.1Z" fill="url(#gBody)" stroke="#8d9399" stroke-width="0.9" stroke-linejoin="round" /><rect x="-6.5" y="-16.8" width="12.9" height="33.8" fill="#eef3f8" fill-opacity="0.6" stroke="#8d9399" stroke-width="0.9"/><rect x="-6.5" y="-16.8" width="12.9" height="2.4" fill="#b5b5b5" stroke="#8a8a8a" stroke-width="0.6"/><rect x="-6.5" y="14.6" width="12.9" height="2.4" fill="#b5b5b5" stroke="#8a8a8a" stroke-width="0.6"/></g><path d="M1413.1 715.5L1422.2 715.5C1424.7 715.5,1424.2 710.3,1427.2 710.3L1438.6 710.3L1438.6 731.5L1427.2 731.5C1424.2 731.5,1424.7 726.3,1422.2 726.3L1413.1 726.3Z" fill="url(#gBody)" stroke="#8d9399" stroke-width="0.9" stroke-linejoin="round" /><path d="M1422.2 715.5L1430.6 715.5Q1432.6 715.5,1432.6 713.5L1432.6 712M1422.2 726.3L1430.6 726.3Q1432.6 726.3,1432.6 728.3L1432.6 729.8" fill="none" stroke="#8d9399" stroke-width="0.8" stroke-linejoin="round" /><rect x="1441" y="710.4" width="17.6" height="4.4" fill="#eef1f4" stroke="#8d9399" stroke-width="0.8"/><rect x="1441" y="727.2" width="17.6" height="4.1" fill="#eef1f4" stroke="#8d9399" stroke-width="0.8"/><rect x="1542.8" y="693.6" width="4.2" height="11.1" fill="url(#gCyl)" stroke="#8d9399" stroke-width="0.8"/><rect x="1539.6" y="685.7" width="10.6" height="7.8" rx="3.6" fill="url(#gCyl)" stroke="#8d9399" stroke-width="0.8"/><rect x="1542.8" y="737.1" width="4.2" height="11.1" fill="url(#gCyl)" stroke="#8d9399" stroke-width="0.8"/><rect x="1539.6" y="748.3" width="10.6" height="7.8" rx="3.6" fill="url(#gCyl)" stroke="#8d9399" stroke-width="0.8"/><rect x="1458.6" y="687.6" width="6.7" height="53.5" rx="0.8" fill="url(#gCyl)" stroke="#8d9399" stroke-width="0.9"/><path d="M1465.3 707.6L1489.4 707.6L1489.4 734.3L1465.3 734.3Z" fill="url(#gTube)" stroke="#8d9399" stroke-width="0.9" stroke-linejoin="round" /><path d="M1489.4 707.3Q1499.05 705.1,1508.7 704.9L1508.7 737.3Q1499.05 737.1,1489.4 734.7Z" fill="url(#gTube)" stroke="#8d9399" stroke-width="0.9" stroke-linejoin="round" /><path d="M1508.7 704.9L1581.1 704.9L1581.1 737.3L1508.7 737.3Z" fill="url(#gTube)" stroke="#8d9399" stroke-width="0.9" stroke-linejoin="round" /><path d="M1581.1 704.9Q1590.95 705.1,1600.8 707.3L1600.8 734.7Q1590.95 737.1,1581.1 737.3Z" fill="url(#gTube)" stroke="#8d9399" stroke-width="0.9" stroke-linejoin="round" /><path d="M1600.8 707.6L1624.8 707.6L1624.8 734.3L1600.8 734.3Z" fill="url(#gTube)" stroke="#8d9399" stroke-width="0.9" stroke-linejoin="round" /><rect x="1624.8" y="712.1" width="6.2" height="17.8" fill="#f3f3f3" stroke="#8d9399" stroke-width="0.8"/><rect x="1624.8" y="715" width="3.6" height="11.6" fill="#fff" stroke="#8d9399" stroke-width="0.8"/><path d="M1693.5 704.9L1645.5 704.9A16.1 16.1 0 0 0 1645.5 737L1693.5 737L1693.5 728.2L1647.3 728.2A7.2 7.2 0 0 1 1647.3 713.8L1693.5 713.8Z" fill="url(#gClevR)" stroke="#8d9399" stroke-width="0.9" stroke-linejoin="round" /><path d="M1632.5 712.2Q1628.9 720.9,1632.5 729.7" fill="none" stroke="#8d9399" stroke-width="0.9" stroke-linejoin="round" /><line x1="1658.3" y1="701.3" x2="1712.3" y2="701.3" stroke="#9a9a9a" stroke-width="0.7" /><rect x="1663" y="699.2" width="46.4" height="4.3" fill="#d9d9d9" stroke="#909090" stroke-width="0.8"/><line x1="1699.5" y1="699.2" x2="1699.5" y2="703.5" stroke="#909090" stroke-width="0.7" /><rect x="1676" y="696.4" width="9" height="2.8" fill="#cfcfcf" stroke="#909090" stroke-width="0.8"/><line x1="1658.3" y1="741.1" x2="1712.3" y2="741.1" stroke="#9a9a9a" stroke-width="0.7" /><rect x="1663" y="739" width="46.4" height="4.2" fill="#d9d9d9" stroke="#909090" stroke-width="0.8"/><line x1="1699.5" y1="739" x2="1699.5" y2="743.2" stroke="#909090" stroke-width="0.7" /><rect x="1676" y="743.2" width="9" height="2.6" fill="#cfcfcf" stroke="#909090" stroke-width="0.8"/><rect x="1676" y="703.5" width="9" height="1.6" fill="#bdbdbd"/><rect x="1676" y="737" width="9" height="2" fill="#bdbdbd"/><line x1="1676" y1="709.7" x2="1676" y2="732.2" stroke="#8a8a8a" stroke-width="0.8" /><line x1="1685" y1="709.7" x2="1685" y2="732.2" stroke="#8a8a8a" stroke-width="0.8" /><line x1="1365.2" y1="720.9" x2="1702" y2="720.9" stroke="#7a7a7a" stroke-width="0.8" stroke-dasharray="1.1 1.5"/><line x1="1392.2" y1="642.6" x2="1392.2" y2="745.4" stroke="#7a7a7a" stroke-width="0.8" stroke-dasharray="1.1 1.5"/><line x1="1680.5" y1="640.9" x2="1680.5" y2="748" stroke="#7a7a7a" stroke-width="0.8" stroke-dasharray="1.1 1.5"/><line x1="1392.2" y1="647.1" x2="1534.9" y2="647.1" stroke="#5a5a5a" stroke-width="0.7" /><line x1="1552.9" y1="647.1" x2="1680.5" y2="647.1" stroke="#5a5a5a" stroke-width="0.7" /><text x="1543.9" y="651.2" font-size="11.5" text-anchor="middle" fill="#626262" font-weight="normal" >L</text><path d="M1392.2 647.1L1397 645.55L1397 648.65Z" fill="#5a5a5a"/><path d="M1680.5 647.1L1675.7 648.65L1675.7 645.55Z" fill="#5a5a5a"/><line x1="1465" y1="661.4" x2="1465" y2="687.2" stroke="#7a7a7a" stroke-width="0.8" stroke-dasharray="1.1 1.5"/><line x1="1624.8" y1="661.4" x2="1624.8" y2="707" stroke="#7a7a7a" stroke-width="0.8" stroke-dasharray="1.1 1.5"/><line x1="1465" y1="667.3" x2="1534.4" y2="667.3" stroke="#5a5a5a" stroke-width="0.7" /><line x1="1553.4" y1="667.3" x2="1624.8" y2="667.3" stroke="#5a5a5a" stroke-width="0.7" /><text x="1543.9" y="671.4" font-size="11.5" text-anchor="middle" fill="#626262" font-weight="normal" >M</text><path d="M1465 667.3L1469.8 665.75L1469.8 668.85Z" fill="#5a5a5a"/><path d="M1624.8 667.3L1620 668.85L1620 665.75Z" fill="#5a5a5a"/><line x1="1641.9" y1="661.4" x2="1641.9" y2="720" stroke="#7a7a7a" stroke-width="0.8" stroke-dasharray="1.1 1.5"/><line x1="1641.9" y1="667.3" x2="1680.5" y2="667.3" stroke="#5a5a5a" stroke-width="0.7" /><path d="M1641.9 667.3L1646.7 665.75L1646.7 668.85Z" fill="#5a5a5a"/><path d="M1680.5 667.3L1675.7 668.85L1675.7 665.75Z" fill="#5a5a5a"/><rect x="1653" y="663.5" width="15.5" height="8" fill="#fff"/><text x="1660.9" y="671.4" font-size="11.5" text-anchor="middle" fill="#5a5a5a">h<tspan font-size="7.82" dy="2.2">1</tspan></text><line x1="1345.9" y1="700.2" x2="1385" y2="700.2" stroke="#7a7a7a" stroke-width="0.8" stroke-dasharray="1.1 1.5"/><line x1="1345.9" y1="741.8" x2="1385" y2="741.8" stroke="#7a7a7a" stroke-width="0.8" stroke-dasharray="1.1 1.5"/><line x1="1355.2" y1="690.9" x2="1355.2" y2="700.2" stroke="#5a5a5a" stroke-width="0.7" /><line x1="1355.2" y1="741.8" x2="1355.2" y2="751.1" stroke="#5a5a5a" stroke-width="0.7" /><path d="M1355.2 700.2L1353.65 695.4L1356.75 695.4Z" fill="#5a5a5a"/><path d="M1355.2 741.8L1356.75 746.6L1353.65 746.6Z" fill="#5a5a5a"/><line x1="1355.2" y1="700.2" x2="1355.2" y2="741.8" stroke="#5a5a5a" stroke-width="0.7" /><text x="1348.8" y="723.6" font-size="11.5" text-anchor="middle" fill="#626262" font-weight="normal" >H</text><line x1="1385.2" y1="742" x2="1385.2" y2="771.2" stroke="#7a7a7a" stroke-width="0.8" stroke-dasharray="1.1 1.5"/><line x1="1398.9" y1="742" x2="1398.9" y2="771.2" stroke="#7a7a7a" stroke-width="0.8" stroke-dasharray="1.1 1.5"/><line x1="1373.2" y1="765.3" x2="1385.2" y2="765.3" stroke="#5a5a5a" stroke-width="0.7" /><line x1="1398.9" y1="765.3" x2="1410.9" y2="765.3" stroke="#5a5a5a" stroke-width="0.7" /><path d="M1385.2 765.3L1380.4 766.85L1380.4 763.75Z" fill="#5a5a5a"/><path d="M1398.9 765.3L1403.7 763.75L1403.7 766.85Z" fill="#5a5a5a"/><line x1="1385.2" y1="765.3" x2="1398.9" y2="765.3" stroke="#5a5a5a" stroke-width="0.7" /><text x="1394.6" y="782.5" font-size="11.5" text-anchor="middle" fill="#626262" font-weight="normal" >D</text><line x1="1627.2" y1="700.2" x2="1627.2" y2="712.1" stroke="#5a5a5a" stroke-width="0.7" /><path d="M1627.2 712.1L1625.65 707.3L1628.75 707.3Z" fill="#5a5a5a"/><line x1="1627.2" y1="729.9" x2="1627.2" y2="770.6" stroke="#5a5a5a" stroke-width="0.7" /><path d="M1627.2 729.9L1628.75 734.7L1625.65 734.7Z" fill="#5a5a5a"/><text x="1628.9" y="782.7" font-size="11.5" text-anchor="middle" fill="#626262" font-weight="normal" >Df</text><line x1="1694" y1="713.9" x2="1729.3" y2="713.9" stroke="#7a7a7a" stroke-width="0.8" stroke-dasharray="1.1 1.5"/><line x1="1694" y1="728.3" x2="1729.3" y2="728.3" stroke="#7a7a7a" stroke-width="0.8" stroke-dasharray="1.1 1.5"/><line x1="1720.6" y1="704.4" x2="1720.6" y2="713.9" stroke="#5a5a5a" stroke-width="0.7" /><line x1="1720.6" y1="728.3" x2="1720.6" y2="737.8" stroke="#5a5a5a" stroke-width="0.7" /><path d="M1720.6 713.9L1719.05 709.1L1722.15 709.1Z" fill="#5a5a5a"/><path d="M1720.6 728.3L1722.15 733.1L1719.05 733.1Z" fill="#5a5a5a"/><text x="1730.2" y="725" font-size="11.5" text-anchor="middle" fill="#5a5a5a">H<tspan font-size="7.82" dy="2.2">1</tspan></text><line x1="1676" y1="747" x2="1676" y2="771.2" stroke="#7a7a7a" stroke-width="0.8" stroke-dasharray="1.1 1.5"/><line x1="1684.7" y1="747" x2="1684.7" y2="771.2" stroke="#7a7a7a" stroke-width="0.8" stroke-dasharray="1.1 1.5"/><line x1="1664" y1="765.3" x2="1676" y2="765.3" stroke="#5a5a5a" stroke-width="0.7" /><line x1="1684.7" y1="765.3" x2="1696.7" y2="765.3" stroke="#5a5a5a" stroke-width="0.7" /><path d="M1676 765.3L1671.2 766.85L1671.2 763.75Z" fill="#5a5a5a"/><path d="M1684.7 765.3L1689.5 763.75L1689.5 766.85Z" fill="#5a5a5a"/><line x1="1676" y1="765.3" x2="1684.7" y2="765.3" stroke="#5a5a5a" stroke-width="0.7" /><text x="1679.7" y="782.7" font-size="11.5" text-anchor="middle" fill="#5a5a5a">D<tspan font-size="7.82" dy="2.2">1</tspan></text><defs>
<linearGradient id="gBase" x1="0" y1="0" x2="1" y2="0"><stop offset="0" stop-color="#d3dce6"/><stop offset="0.25" stop-color="#e9eff5"/><stop offset="0.5" stop-color="#f3f7fb"/><stop offset="0.75" stop-color="#e9eff5"/><stop offset="1" stop-color="#d3dce6"/></linearGradient>
</defs><path d="M1359.5 963H1441.6V990.8L1435.2 997.1H1365.8L1359.5 990.8Z" fill="#fff"/><path d="M1339.6 868.7L1461.5 868.7L1465.7 872.9L1465.7 939.6L1461.5 943.8L1339.6 943.8L1335.4 939.6L1335.4 872.9Z" fill="url(#gBody)" stroke="#8d9399" stroke-width="0.9" stroke-linejoin="round" /><rect x="1349.3" y="914.6" width="102.9" height="29.2" fill="#dcdcdc" stroke="#a9a9a9" stroke-width="0.8"/><rect x="1346.7" y="934.8" width="107.9" height="4.7" fill="#e9e9e9" stroke="#8f8f8f" stroke-width="0.8"/><rect x="1346.7" y="934.8" width="9.7" height="4.7" fill="#a2a2a2" stroke="#808080" stroke-width="0.8"/><rect x="1444.9" y="934.8" width="9.7" height="4.7" fill="#a2a2a2" stroke="#808080" stroke-width="0.8"/><rect x="1434.5" y="895.2" width="25.5" height="5.6" fill="#f3f3f3" stroke="#8d9399" stroke-width="0.8"/><rect x="1455" y="894.4" width="11.4" height="7.8" fill="#f1f1f1" stroke="#8d9399" stroke-width="0.8"/><line x1="1460.7" y1="894.4" x2="1460.7" y2="902.2" stroke="#8d9399" stroke-width="0.7" /><path d="M1465.7 893L1468.3 891.8L1469.9 893L1469.9 903.2L1468.3 904.4L1465.7 903.2Z" fill="#efefef" stroke="#8d9399" stroke-width="0.8" stroke-linejoin="round" /><rect x="1469.9" y="895.2" width="5.7" height="6.1" rx="0.8" fill="#f4f4f4" stroke="#8d9399" stroke-width="0.8"/><path d="M1389.9 879L1389.9 876.1L1400.5 871.1L1411.2 876.1L1411.2 879Z" fill="url(#gBody)" stroke="#8d9399" stroke-width="0.9" stroke-linejoin="round" /><line x1="1389.9" y1="876.1" x2="1411.2" y2="876.1" stroke="#8d9399" stroke-width="0.8" /><path d="M1379.3 946L1376 961L1425.7 961L1422.5 946Z" fill="url(#gBase)" stroke="#8d9399" stroke-width="0.9" stroke-linejoin="round" /><rect x="1370.4" y="961" width="60.2" height="25.5" rx="1.2" fill="url(#gBase)" stroke="#8d9399" stroke-width="0.9"/><line x1="1370.4" y1="964.6" x2="1430.6" y2="964.6" stroke="#a9b0b8" stroke-width="0.8" /><line x1="1370.4" y1="984.4" x2="1430.6" y2="984.4" stroke="#8d9399" stroke-width="1" /><circle cx="1400.5" cy="915" r="37.7" fill="url(#gBall)" stroke="#8d9399" stroke-width="0.9"/><line x1="1400.5" y1="865.4" x2="1400.5" y2="989.3" stroke="#7a7a7a" stroke-width="0.8" stroke-dasharray="1.1 1.5"/><line x1="1335.4" y1="849.9" x2="1335.4" y2="869" stroke="#7a7a7a" stroke-width="0.8" stroke-dasharray="1.1 1.5"/><line x1="1465.7" y1="849.9" x2="1465.7" y2="869" stroke="#7a7a7a" stroke-width="0.8" stroke-dasharray="1.1 1.5"/><line x1="1335.4" y1="854.8" x2="1389.8" y2="854.8" stroke="#5a5a5a" stroke-width="0.7" /><line x1="1411.8" y1="854.8" x2="1465.7" y2="854.8" stroke="#5a5a5a" stroke-width="0.7" /><text x="1400.8" y="858.9" font-size="11.5" text-anchor="middle" fill="#626262" font-weight="normal" >øB</text><path d="M1335.4 854.8L1340.2 853.25L1340.2 856.35Z" fill="#5a5a5a"/><path d="M1465.7 854.8L1460.9 856.35L1460.9 853.25Z" fill="#5a5a5a"/><line x1="1311" y1="868.7" x2="1335" y2="868.7" stroke="#7a7a7a" stroke-width="0.8" stroke-dasharray="1.1 1.5"/><line x1="1311" y1="986.5" x2="1465.7" y2="986.5" stroke="#7a7a7a" stroke-width="0.8" stroke-dasharray="1.1 1.5"/><line x1="1317" y1="868.7" x2="1317" y2="920.4" stroke="#5a5a5a" stroke-width="0.7" /><line x1="1317" y1="934.4" x2="1317" y2="986.5" stroke="#5a5a5a" stroke-width="0.7" /><text x="1318.1" y="931.1" font-size="11.5" text-anchor="middle" fill="#626262" font-weight="normal" >H</text><path d="M1317 868.7L1318.55 873.5L1315.45 873.5Z" fill="#5a5a5a"/><path d="M1317 986.5L1315.45 981.7L1318.55 981.7Z" fill="#5a5a5a"/><line x1="1367.7" y1="900.1" x2="1433.8" y2="928.5" stroke="#5a5a5a" stroke-width="0.7" /><path d="M1367.7 900.1L1372.72 900.57L1371.5 903.42Z" fill="#5a5a5a"/><path d="M1433.8 928.5L1428.78 928.03L1430 925.18Z" fill="#5a5a5a"/><text x="1399.8" y="908.5" font-size="11.5" text-anchor="middle" fill="#626262" font-weight="normal" >øD</text><line x1="1431" y1="961" x2="1465.7" y2="961" stroke="#7a7a7a" stroke-width="0.8" stroke-dasharray="1.1 1.5"/><line x1="1460.4" y1="951.7" x2="1460.4" y2="961" stroke="#5a5a5a" stroke-width="0.7" /><line x1="1460.4" y1="986.5" x2="1460.4" y2="995.8" stroke="#5a5a5a" stroke-width="0.7" /><path d="M1460.4 961L1458.85 956.2L1461.95 956.2Z" fill="#5a5a5a"/><path d="M1460.4 986.5L1461.95 991.3L1458.85 991.3Z" fill="#5a5a5a"/><line x1="1460.4" y1="961" x2="1460.4" y2="986.5" stroke="#5a5a5a" stroke-width="0.7" /><text x="1454.6" y="977.1" font-size="11.5" text-anchor="middle" fill="#626262" font-weight="normal" >L</text><line x1="1370.4" y1="987" x2="1370.4" y2="1007.5" stroke="#7a7a7a" stroke-width="0.8" stroke-dasharray="1.1 1.5"/><line x1="1430.6" y1="987" x2="1430.6" y2="1007.5" stroke="#7a7a7a" stroke-width="0.8" stroke-dasharray="1.1 1.5"/><line x1="1370.4" y1="1002.5" x2="1391.3" y2="1002.5" stroke="#5a5a5a" stroke-width="0.7" /><line x1="1410.3" y1="1002.5" x2="1430.6" y2="1002.5" stroke="#5a5a5a" stroke-width="0.7" /><text x="1400.8" y="1006.6" font-size="11.5" text-anchor="middle" fill="#626262" font-weight="normal" >øA</text><path d="M1370.4 1002.5L1375.2 1000.95L1375.2 1004.05Z" fill="#5a5a5a"/><path d="M1430.6 1002.5L1425.8 1004.05L1425.8 1000.95Z" fill="#5a5a5a"/><path d="M1651.9 963H1733.8V978L1727.4 983.7H1658L1651.9 978Z" fill="#fff"/><path d="M1632.1 868.7L1642.7 868.7Q1644.2 868.7,1644.9 870.2C1648.9 877.2,1659.6 876.8,1667.1 869.5Q1668.1 868.7,1669.6 868.7L1717.9 868.7Q1719.4 868.7,1720.4 869.5C1727.9 876.8,1737.3 877.2,1741.3 870.2Q1742 868.7,1743.5 868.7L1755.1 868.7L1758.6 872.2L1758.6 940.3Q1757.6 943.3,1750.6 943.8L1636.6 943.8Q1629.6 943.3,1628.6 940.3L1628.6 872.2Z" fill="url(#gBody)" stroke="#8d9399" stroke-width="0.9" stroke-linejoin="round" /><rect x="1641.7" y="914.6" width="102.7" height="29.2" fill="#dcdcdc" stroke="#a9a9a9" stroke-width="0.8"/><rect x="1639.2" y="934.8" width="107.7" height="4.7" fill="#e9e9e9" stroke="#8f8f8f" stroke-width="0.8"/><rect x="1639.2" y="934.8" width="9.7" height="4.7" fill="#a2a2a2" stroke="#808080" stroke-width="0.8"/><rect x="1737.2" y="934.8" width="9.7" height="4.7" fill="#a2a2a2" stroke="#808080" stroke-width="0.8"/><rect x="1727.4" y="895.2" width="25.5" height="5.6" fill="#f3f3f3" stroke="#8d9399" stroke-width="0.8"/><rect x="1747.9" y="894.4" width="11.4" height="7.8" fill="#f1f1f1" stroke="#8d9399" stroke-width="0.8"/><line x1="1753.6" y1="894.4" x2="1753.6" y2="902.2" stroke="#8d9399" stroke-width="0.7" /><path d="M1758.6 893L1761.2 891.8L1762.8 893L1762.8 903.2L1761.2 904.4L1758.6 903.2Z" fill="#efefef" stroke="#8d9399" stroke-width="0.8" stroke-linejoin="round" /><rect x="1762.8" y="895.2" width="5.7" height="6.1" rx="0.8" fill="#f4f4f4" stroke="#8d9399" stroke-width="0.8"/><rect x="1678.3" y="876.1" width="29.6" height="6.5" fill="url(#gBody)" stroke="#8d9399" stroke-width="0.9"/><rect x="1662.7" y="963.9" width="61.2" height="9.2" fill="url(#gBase)" stroke="#8d9399" stroke-width="0.9"/><line x1="1663" y1="971.7" x2="1723.6" y2="971.7" stroke="#8d9399" stroke-width="1.3" /><circle cx="1693.4" cy="919.2" r="38.2" fill="url(#gBall)" stroke="#8d9399" stroke-width="0.9"/><path d="M1665 943.6C1666.3 946.6,1667.4 949.6,1667.4 952.6C1667.4 957.9,1663.8 959.9,1662.8 963.9L1724 963.9C1723 959.9,1719.4 957.9,1719.4 952.6C1719.4 949.6,1720.5 946.6,1721.8 943.6Z" fill="url(#gBase)"/><path d="M1665 943.6C1666.3 946.6,1667.4 949.6,1667.4 952.6C1667.4 957.9,1663.8 959.9,1662.8 963.9" fill="none" stroke="#8d9399" stroke-width="0.9" stroke-linejoin="round" /><path d="M1724 963.9C1723 959.9,1719.4 957.9,1719.4 952.6C1719.4 949.6,1720.5 946.6,1721.8 943.6" fill="none" stroke="#8d9399" stroke-width="0.9" stroke-linejoin="round" /><line x1="1693.4" y1="865.4" x2="1693.4" y2="977.3" stroke="#7a7a7a" stroke-width="0.8" stroke-dasharray="1.1 1.5"/><line x1="1628.6" y1="849.9" x2="1628.6" y2="869" stroke="#7a7a7a" stroke-width="0.8" stroke-dasharray="1.1 1.5"/><line x1="1758.6" y1="849.9" x2="1758.6" y2="869" stroke="#7a7a7a" stroke-width="0.8" stroke-dasharray="1.1 1.5"/><line x1="1628.6" y1="854.8" x2="1682.7" y2="854.8" stroke="#5a5a5a" stroke-width="0.7" /><line x1="1704.7" y1="854.8" x2="1758.6" y2="854.8" stroke="#5a5a5a" stroke-width="0.7" /><text x="1693.7" y="858.9" font-size="11.5" text-anchor="middle" fill="#626262" font-weight="normal" >øB</text><path d="M1628.6 854.8L1633.4 853.25L1633.4 856.35Z" fill="#5a5a5a"/><path d="M1758.6 854.8L1753.8 856.35L1753.8 853.25Z" fill="#5a5a5a"/><line x1="1602.8" y1="868.7" x2="1628" y2="868.7" stroke="#7a7a7a" stroke-width="0.8" stroke-dasharray="1.1 1.5"/><line x1="1602.8" y1="973.1" x2="1757.8" y2="973.1" stroke="#7a7a7a" stroke-width="0.8" stroke-dasharray="1.1 1.5"/><line x1="1609.2" y1="868.7" x2="1609.2" y2="920.4" stroke="#5a5a5a" stroke-width="0.7" /><line x1="1609.2" y1="934.4" x2="1609.2" y2="973.1" stroke="#5a5a5a" stroke-width="0.7" /><text x="1609.9" y="931.1" font-size="11.5" text-anchor="middle" fill="#626262" font-weight="normal" >H</text><path d="M1609.2 868.7L1610.75 873.5L1607.65 873.5Z" fill="#5a5a5a"/><path d="M1609.2 973.1L1607.65 968.3L1610.75 968.3Z" fill="#5a5a5a"/><line x1="1660.1" y1="900.1" x2="1727" y2="928.7" stroke="#5a5a5a" stroke-width="0.7" /><path d="M1660.1 900.1L1665.12 900.56L1663.9 903.41Z" fill="#5a5a5a"/><path d="M1727 928.7L1721.98 928.24L1723.2 925.39Z" fill="#5a5a5a"/><text x="1693" y="908.5" font-size="11.5" text-anchor="middle" fill="#626262" font-weight="normal" >øD</text><line x1="1724" y1="963.9" x2="1757.8" y2="963.9" stroke="#7a7a7a" stroke-width="0.8" stroke-dasharray="1.1 1.5"/><line x1="1752.9" y1="954.7" x2="1752.9" y2="963.9" stroke="#5a5a5a" stroke-width="0.7" /><line x1="1752.9" y1="973.1" x2="1752.9" y2="982.3" stroke="#5a5a5a" stroke-width="0.7" /><path d="M1752.9 963.9L1751.35 959.1L1754.45 959.1Z" fill="#5a5a5a"/><path d="M1752.9 973.1L1754.45 977.9L1751.35 977.9Z" fill="#5a5a5a"/><text x="1761.8" y="972.9" font-size="11.5" text-anchor="middle" fill="#626262" font-weight="normal" >L</text><line x1="1662.7" y1="974" x2="1662.7" y2="995" stroke="#7a7a7a" stroke-width="0.8" stroke-dasharray="1.1 1.5"/><line x1="1723.9" y1="974" x2="1723.9" y2="995" stroke="#7a7a7a" stroke-width="0.8" stroke-dasharray="1.1 1.5"/><line x1="1662.7" y1="989.6" x2="1684.2" y2="989.6" stroke="#5a5a5a" stroke-width="0.7" /><line x1="1703.2" y1="989.6" x2="1723.9" y2="989.6" stroke="#5a5a5a" stroke-width="0.7" /><text x="1693.7" y="993.7" font-size="11.5" text-anchor="middle" fill="#626262" font-weight="normal" >øA</text><path d="M1662.7 989.6L1667.5 988.05L1667.5 991.15Z" fill="#5a5a5a"/><path d="M1723.9 989.6L1719.1 991.15L1719.1 988.05Z" fill="#5a5a5a"/><path d="M1365.9 1236H1432.1V1249.2L1426.3 1256.4H1371.5L1365.9 1249.2Z" fill="#fff"/><path d="M1336.8 1100.3L1347.4 1100.3Q1348.9 1100.3,1349.6 1101.8C1353.6 1108.8,1364.3 1108.4,1371.8 1101.1Q1372.8 1100.3,1374.3 1100.3L1422.4 1100.3Q1423.9 1100.3,1424.9 1101.1C1432.4 1108.4,1441.8 1108.8,1445.8 1101.8Q1446.5 1100.3,1448 1100.3L1459.6 1100.3L1463.1 1103.8L1463.1 1171.6Q1462.1 1174.6,1455.1 1175.1L1341.3 1175.1Q1334.3 1174.6,1333.3 1171.6L1333.3 1103.8Z" fill="url(#gBody)" stroke="#8d9399" stroke-width="0.9" stroke-linejoin="round" /><rect x="1346.4" y="1146.1" width="102.7" height="29" fill="#dcdcdc" stroke="#a9a9a9" stroke-width="0.8"/><rect x="1343.9" y="1166.3" width="107.7" height="4.7" fill="#e9e9e9" stroke="#8f8f8f" stroke-width="0.8"/><rect x="1343.9" y="1166.3" width="9.7" height="4.7" fill="#a2a2a2" stroke="#808080" stroke-width="0.8"/><rect x="1441.9" y="1166.3" width="9.7" height="4.7" fill="#a2a2a2" stroke="#808080" stroke-width="0.8"/><rect x="1431.9" y="1126.7" width="25.5" height="5.6" fill="#f3f3f3" stroke="#8d9399" stroke-width="0.8"/><rect x="1452.4" y="1125.9" width="11.4" height="7.8" fill="#f1f1f1" stroke="#8d9399" stroke-width="0.8"/><line x1="1458.1" y1="1125.9" x2="1458.1" y2="1133.7" stroke="#8d9399" stroke-width="0.7" /><path d="M1463.1 1124.5L1465.7 1123.3L1467.3 1124.5L1467.3 1134.7L1465.7 1135.9L1463.1 1134.7Z" fill="#efefef" stroke="#8d9399" stroke-width="0.8" stroke-linejoin="round" /><rect x="1467.3" y="1126.7" width="5.7" height="6.1" rx="0.8" fill="#f4f4f4" stroke="#8d9399" stroke-width="0.8"/><rect x="1383" y="1107.6" width="29.6" height="6.5" fill="url(#gBody)" stroke="#8d9399" stroke-width="0.9"/><rect x="1378.6" y="1206.8" width="38.9" height="9" fill="url(#gBase)" stroke="#8d9399" stroke-width="0.9"/><rect x="1376.5" y="1215.1" width="43.7" height="33.8" rx="1" fill="url(#gBase)" stroke="#8d9399" stroke-width="0.9"/><line x1="1376.8" y1="1246.8" x2="1419.9" y2="1246.8" stroke="#8d9399" stroke-width="1" /><rect x="1368.3" y="1199.2" width="60" height="7.6" rx="2" fill="url(#gBase)" stroke="#8d9399" stroke-width="0.9"/><line x1="1368.6" y1="1202.8" x2="1428" y2="1202.8" stroke="#a9b0b8" stroke-width="0.8" /><circle cx="1398.5" cy="1150.8" r="38.2" fill="url(#gBall)" stroke="#8d9399" stroke-width="0.9"/><path d="M1378.5 1183.3C1377.6 1190,1371 1193,1368.3 1199.2L1428.3 1199.2C1425.5 1193,1419.4 1190,1418.5 1183.3Z" fill="url(#gBase)"/><path d="M1378.5 1183.3C1377.6 1190,1371 1193,1368.3 1199.2" fill="none" stroke="#8d9399" stroke-width="0.9" stroke-linejoin="round" /><path d="M1428.3 1199.2C1425.5 1193,1419.4 1190,1418.5 1183.3" fill="none" stroke="#8d9399" stroke-width="0.9" stroke-linejoin="round" /><line x1="1398.5" y1="1097.6" x2="1398.5" y2="1208.7" stroke="#7a7a7a" stroke-width="0.8" stroke-dasharray="1.1 1.5"/><line x1="1333.3" y1="1080.9" x2="1333.3" y2="1102.3" stroke="#7a7a7a" stroke-width="0.8" stroke-dasharray="1.1 1.5"/><line x1="1463.1" y1="1080.9" x2="1463.1" y2="1102.3" stroke="#7a7a7a" stroke-width="0.8" stroke-dasharray="1.1 1.5"/><line x1="1333.3" y1="1086.4" x2="1387.8" y2="1086.4" stroke="#5a5a5a" stroke-width="0.7" /><line x1="1409.8" y1="1086.4" x2="1463.1" y2="1086.4" stroke="#5a5a5a" stroke-width="0.7" /><text x="1398.8" y="1090.5" font-size="11.5" text-anchor="middle" fill="#626262" font-weight="normal" >øB</text><path d="M1333.3 1086.4L1338.1 1084.85L1338.1 1087.95Z" fill="#5a5a5a"/><path d="M1463.1 1086.4L1458.3 1087.95L1458.3 1084.85Z" fill="#5a5a5a"/><line x1="1307.9" y1="1100.3" x2="1333" y2="1100.3" stroke="#7a7a7a" stroke-width="0.8" stroke-dasharray="1.1 1.5"/><line x1="1307.9" y1="1207.1" x2="1446.1" y2="1207.1" stroke="#7a7a7a" stroke-width="0.8" stroke-dasharray="1.1 1.5"/><line x1="1314.6" y1="1100.3" x2="1314.6" y2="1146.5" stroke="#5a5a5a" stroke-width="0.7" /><line x1="1314.6" y1="1160.5" x2="1314.6" y2="1207.1" stroke="#5a5a5a" stroke-width="0.7" /><text x="1315.1" y="1157.2" font-size="11.5" text-anchor="middle" fill="#626262" font-weight="normal" >H</text><path d="M1314.6 1100.3L1316.15 1105.1L1313.05 1105.1Z" fill="#5a5a5a"/><path d="M1314.6 1207.1L1313.05 1202.3L1316.15 1202.3Z" fill="#5a5a5a"/><line x1="1365.6" y1="1131.4" x2="1431.8" y2="1160.3" stroke="#5a5a5a" stroke-width="0.7" /><path d="M1365.6 1131.4L1370.62 1131.9L1369.38 1134.74Z" fill="#5a5a5a"/><path d="M1431.8 1160.3L1426.78 1159.8L1428.02 1156.96Z" fill="#5a5a5a"/><text x="1397.7" y="1140.6" font-size="11.5" text-anchor="middle" fill="#626262" font-weight="normal" >øD</text><line x1="1420.5" y1="1248.9" x2="1446.1" y2="1248.9" stroke="#7a7a7a" stroke-width="0.8" stroke-dasharray="1.1 1.5"/><line x1="1440.5" y1="1207.1" x2="1440.5" y2="1220.7" stroke="#5a5a5a" stroke-width="0.7" /><line x1="1440.5" y1="1235.7" x2="1440.5" y2="1248.9" stroke="#5a5a5a" stroke-width="0.7" /><text x="1440.5" y="1231.9" font-size="11.5" text-anchor="middle" fill="#626262" font-weight="normal" >Lf</text><path d="M1440.5 1207.1L1442.05 1211.9L1438.95 1211.9Z" fill="#5a5a5a"/><path d="M1440.5 1248.9L1438.95 1244.1L1442.05 1244.1Z" fill="#5a5a5a"/><line x1="1376.5" y1="1250" x2="1376.5" y2="1268.3" stroke="#7a7a7a" stroke-width="0.8" stroke-dasharray="1.1 1.5"/><line x1="1420.2" y1="1250" x2="1420.2" y2="1268.3" stroke="#7a7a7a" stroke-width="0.8" stroke-dasharray="1.1 1.5"/><line x1="1376.5" y1="1263" x2="1389.3" y2="1263" stroke="#5a5a5a" stroke-width="0.7" /><line x1="1408.3" y1="1263" x2="1420.2" y2="1263" stroke="#5a5a5a" stroke-width="0.7" /><text x="1398.8" y="1267.1" font-size="11.5" text-anchor="middle" fill="#626262" font-weight="normal" >øA</text><path d="M1376.5 1263L1381.3 1261.45L1381.3 1264.55Z" fill="#5a5a5a"/><path d="M1420.2 1263L1415.4 1264.55L1415.4 1261.45Z" fill="#5a5a5a"/><path d="M1659.1 1236H1738.1V1282H1659.1Z" fill="#fff"/><path d="M1637.4 1099.1L1763.2 1099.1L1767.4 1103.3L1767.4 1172.5L1763.2 1176.7L1637.4 1176.7L1633.2 1172.5L1633.2 1103.3Z" fill="url(#gBody)" stroke="#8d9399" stroke-width="0.9" stroke-linejoin="round" /><rect x="1648.9" y="1144.9" width="102.3" height="28.7" fill="#dcdcdc" stroke="#a9a9a9" stroke-width="0.8"/><rect x="1646.2" y="1164.7" width="107.7" height="5" fill="#e9e9e9" stroke="#8f8f8f" stroke-width="0.8"/><rect x="1646.2" y="1164.7" width="9.7" height="5" fill="#a2a2a2" stroke="#808080" stroke-width="0.8"/><rect x="1744.2" y="1164.7" width="9.7" height="5" fill="#a2a2a2" stroke="#808080" stroke-width="0.8"/><rect x="1736.2" y="1125.9" width="25.5" height="5.6" fill="#f3f3f3" stroke="#8d9399" stroke-width="0.8"/><rect x="1756.7" y="1125.1" width="11.4" height="7.8" fill="#f1f1f1" stroke="#8d9399" stroke-width="0.8"/><line x1="1762.4" y1="1125.1" x2="1762.4" y2="1132.9" stroke="#8d9399" stroke-width="0.7" /><path d="M1767.4 1123.7L1770 1122.5L1771.6 1123.7L1771.6 1133.9L1770 1135.1L1767.4 1133.9Z" fill="#efefef" stroke="#8d9399" stroke-width="0.8" stroke-linejoin="round" /><rect x="1771.6" y="1125.9" width="5.7" height="6.1" rx="0.8" fill="#f4f4f4" stroke="#8d9399" stroke-width="0.8"/><rect x="1682.1" y="1104.1" width="35.9" height="8" fill="url(#gBody)" stroke="#8d9399" stroke-width="0.9"/><rect x="1686.2" y="1107.2" width="27.7" height="4" fill="#dfe6ee" stroke="#8d9399" stroke-width="0.8"/><path d="M1679.4 1178.1L1669.5 1210.4L1730.6 1210.4L1720.7 1178.1Z" fill="url(#gBase)" stroke="#8d9399" stroke-width="0.9" stroke-linejoin="round" /><rect x="1669.5" y="1210.4" width="61.1" height="75.8" fill="url(#gBase)" stroke="#8d9399" stroke-width="0.9"/><rect x="1670" y="1283.7" width="60.1" height="2.5" fill="#aeb6be"/><circle cx="1700" cy="1145.5" r="37.7" fill="url(#gBall)" stroke="#8d9399" stroke-width="0.9"/><circle cx="1700" cy="1232.9" r="7.4" fill="none" stroke="#8d9399" stroke-width="0.9"/><line x1="1689.3" y1="1232.9" x2="1711.7" y2="1232.9" stroke="#7a7a7a" stroke-width="0.8" stroke-dasharray="1.1 1.5"/><line x1="1700" y1="1096.4" x2="1700" y2="1287.7" stroke="#7a7a7a" stroke-width="0.8" stroke-dasharray="1.1 1.5"/><line x1="1633.2" y1="1080.3" x2="1633.2" y2="1103.6" stroke="#7a7a7a" stroke-width="0.8" stroke-dasharray="1.1 1.5"/><line x1="1767.4" y1="1080.3" x2="1767.4" y2="1103.6" stroke="#7a7a7a" stroke-width="0.8" stroke-dasharray="1.1 1.5"/><line x1="1633.2" y1="1085.1" x2="1689.3" y2="1085.1" stroke="#5a5a5a" stroke-width="0.7" /><line x1="1711.3" y1="1085.1" x2="1767.4" y2="1085.1" stroke="#5a5a5a" stroke-width="0.7" /><text x="1700.3" y="1089.2" font-size="11.5" text-anchor="middle" fill="#626262" font-weight="normal" >øB</text><path d="M1633.2 1085.1L1638 1083.55L1638 1086.65Z" fill="#5a5a5a"/><path d="M1767.4 1085.1L1762.6 1086.65L1762.6 1083.55Z" fill="#5a5a5a"/><line x1="1610.3" y1="1099.1" x2="1633" y2="1099.1" stroke="#7a7a7a" stroke-width="0.8" stroke-dasharray="1.1 1.5"/><line x1="1610.3" y1="1285.9" x2="1669.5" y2="1285.9" stroke="#7a7a7a" stroke-width="0.8" stroke-dasharray="1.1 1.5"/><line x1="1616.2" y1="1099.1" x2="1616.2" y2="1216.9" stroke="#5a5a5a" stroke-width="0.7" /><line x1="1616.2" y1="1232.9" x2="1616.2" y2="1285.9" stroke="#5a5a5a" stroke-width="0.7" /><text x="1616.2" y="1228.6" font-size="11.5" text-anchor="middle" fill="#626262" font-weight="normal" >H</text><path d="M1616.2 1099.1L1617.75 1103.9L1614.65 1103.9Z" fill="#5a5a5a"/><path d="M1616.2 1285.9L1614.65 1281.1L1617.75 1281.1Z" fill="#5a5a5a"/><line x1="1625.5" y1="1178.1" x2="1679.4" y2="1178.1" stroke="#7a7a7a" stroke-width="0.8" stroke-dasharray="1.1 1.5"/><line x1="1631.3" y1="1178.1" x2="1631.3" y2="1216.9" stroke="#5a5a5a" stroke-width="0.7" /><line x1="1631.3" y1="1232.9" x2="1631.3" y2="1285.9" stroke="#5a5a5a" stroke-width="0.7" /><text x="1631.5" y="1228.6" font-size="11.5" text-anchor="middle" fill="#626262" font-weight="normal" >L</text><path d="M1631.3 1178.1L1632.85 1182.9L1629.75 1182.9Z" fill="#5a5a5a"/><path d="M1631.3 1285.9L1629.75 1281.1L1632.85 1281.1Z" fill="#5a5a5a"/><line x1="1665.9" y1="1130.5" x2="1733.6" y2="1158.7" stroke="#5a5a5a" stroke-width="0.7" /><path d="M1665.9 1130.5L1670.93 1130.91L1669.73 1133.78Z" fill="#5a5a5a"/><path d="M1733.6 1158.7L1728.57 1158.29L1729.77 1155.42Z" fill="#5a5a5a"/><text x="1699.1" y="1139.1" font-size="11.5" text-anchor="middle" fill="#626262" font-weight="normal" >øD</text><line x1="1700" y1="1145.5" x2="1739.5" y2="1203.3" stroke="#7a7a7a" stroke-width="0.8" stroke-dasharray="1.1 1.5"/><line x1="1700" y1="1145.5" x2="1758.8" y2="1186.7" stroke="#7a7a7a" stroke-width="0.8" stroke-dasharray="1.1 1.5"/><path d="M1730.9 1198.2Q1746 1193,1754.8 1178.5" fill="none" stroke="#5a5a5a" stroke-width="0.7" stroke-linejoin="round" /><path d="M1730.2 1198.5L1734.18 1195.4L1735.24 1198.31Z" fill="#5a5a5a"/><path d="M1755.2 1177.8L1754.32 1182.77L1751.58 1181.31Z" fill="#5a5a5a"/><text x="1752.7" y="1201.4" font-size="12.0" text-anchor="middle" fill="#626262" font-weight="normal" >α</text><text x="1652.5" y="1239.3" font-size="11.5" text-anchor="middle" fill="#626262" font-weight="normal" >øC</text><path d="M1645.8 1245.8L1688.4 1245.8L1694.6 1239.8" fill="none" stroke="#5a5a5a" stroke-width="0.7" stroke-linejoin="round" /><path d="M1695 1239.4L1692.62 1243.85L1690.47 1241.62Z" fill="#5a5a5a"/><line x1="1712.6" y1="1218.9" x2="1706" y2="1225.4" stroke="#5a5a5a" stroke-width="0.7" /><path d="M1705.4 1226L1707.7 1221.51L1709.89 1223.7Z" fill="#5a5a5a"/><line x1="1669.5" y1="1287" x2="1669.5" y2="1301.7" stroke="#7a7a7a" stroke-width="0.8" stroke-dasharray="1.1 1.5"/><line x1="1730.6" y1="1287" x2="1730.6" y2="1301.7" stroke="#7a7a7a" stroke-width="0.8" stroke-dasharray="1.1 1.5"/><line x1="1669.5" y1="1296.6" x2="1690.8" y2="1296.6" stroke="#5a5a5a" stroke-width="0.7" /><line x1="1709.8" y1="1296.6" x2="1730.6" y2="1296.6" stroke="#5a5a5a" stroke-width="0.7" /><text x="1700.3" y="1300.7" font-size="11.5" text-anchor="middle" fill="#626262" font-weight="normal" >øA</text><path d="M1669.5 1296.6L1674.3 1295.05L1674.3 1298.15Z" fill="#5a5a5a"/><path d="M1730.6 1296.6L1725.8 1298.15L1725.8 1295.05Z" fill="#5a5a5a"/><text x="100.5" y="595.8" font-size="15.3" fill="#747474" textLength="159.2" lengthAdjust="spacingAndGlyphs" xml:space="preserve">DGT liefert  Ihre individuell</text><text x="71.6" y="618.18" font-size="15.3" fill="#747474" textLength="188.1" lengthAdjust="spacingAndGlyphs" xml:space="preserve">passenden Landmaschinenteile.</text><text x="77.4" y="640.56" font-size="15.3" fill="#747474" textLength="182.3" lengthAdjust="spacingAndGlyphs" xml:space="preserve">Senden Sie uns eine Zeichnung</text><text x="65.6" y="662.94" font-size="15.3" fill="#747474" textLength="194.1" lengthAdjust="spacingAndGlyphs" xml:space="preserve">oder sprechen Sie direkt mit uns,</text><text x="87.7" y="685.32" font-size="15.3" fill="#747474" textLength="172" lengthAdjust="spacingAndGlyphs" xml:space="preserve">damit wir Sie bei der Vielzahl</text><text x="133.1" y="707.7" font-size="15.3" fill="#747474" textLength="126.6" lengthAdjust="spacingAndGlyphs" xml:space="preserve">der unterschiedlichen</text><text x="124.4" y="730.08" font-size="15.3" fill="#747474" textLength="135.3" lengthAdjust="spacingAndGlyphs" xml:space="preserve">Anforderungen mit der</text><text x="81.2" y="752.46" font-size="15.3" fill="#747474" textLength="178.5" lengthAdjust="spacingAndGlyphs" xml:space="preserve">geeigneten Lösung ausstatten</text><text x="87.7" y="774.84" font-size="15.3" fill="#747474" textLength="172" lengthAdjust="spacingAndGlyphs" xml:space="preserve">können: 02 31 - 977 25 - 300</text><text x="356" y="1428.5" font-size="16.5" fill="#2b4a86" textLength="313" lengthAdjust="spacing">DGT Gelenklagertechnik GmbH</text><text x="1380" y="1428.5" font-size="16.5" fill="#2b4a86" textLength="313" lengthAdjust="spacing">DGT Gelenklagertechnik GmbH</text><text x="73" y="1431" font-size="13" fill="#2b4a86">74</text><text x="1959.5" y="1431" font-size="13" fill="#2b4a86">75</text><path d="M1950 20.5 C1880 20,1822 30,1818 52 C1816 70,1850 82,1884 84 L1884 58.5 C1858 57,1846 51,1846 45 C1846 32,1890 22,1950 20.5Z" fill="#12a680"/><text x="1890.8" y="84.6" font-size="62" font-weight="bold" fill="#0b3077" stroke="#0b3077" stroke-width="1.4" textLength="121.5" lengthAdjust="spacingAndGlyphs">DGT</text><circle cx="2013.6" cy="76.4" r="8.3" fill="#12a680"/><text x="1835" y="102.7" font-size="13" fill="#2b4a86" textLength="185.5" lengthAdjust="spacing">GELENKLAGERTECHNIK</text><linearGradient id="eg" x1="0" y1="0" x2="0" y2="1"><stop offset="0" stop-color="#6a7a72"/><stop offset="0.4" stop-color="#8a9390"/><stop offset="0.47" stop-color="#e8c440"/><stop offset="0.55" stop-color="#9a8a8a"/><stop offset="0.68" stop-color="#e0c040"/><stop offset="0.78" stop-color="#555"/><stop offset="1" stop-color="#778"/></linearGradient><rect x="0" y="1111" width="1.2" height="215" fill="url(#eg)"/>
</svg>
</body></html>
